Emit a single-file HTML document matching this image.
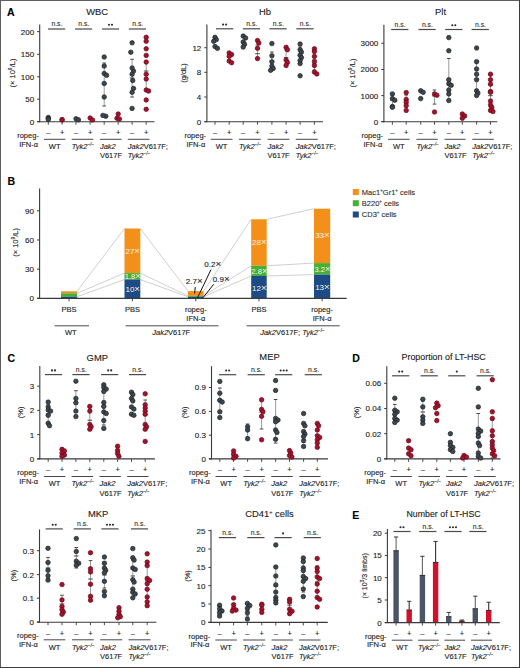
<!DOCTYPE html><html><head><meta charset="utf-8"><style>html,body{margin:0;padding:0;background:#fff;}svg{display:block;}text{stroke:#222;stroke-width:0.12px;}text.w{stroke:none;}</style></head><body>
<svg width="520" height="668" viewBox="0 0 520 668" font-family='"Liberation Sans", sans-serif'>
<rect x="0.00" y="0.00" width="520.00" height="668.00" fill="#fff"/>
<line x1="0.00" y1="0.50" x2="520.00" y2="0.50" stroke="#5e5e5e" stroke-width="1" />
<line x1="0.50" y1="0.00" x2="0.50" y2="668.00" stroke="#5e5e5e" stroke-width="1" />
<line x1="519.50" y1="0.00" x2="519.50" y2="668.00" stroke="#3c3c3c" stroke-width="1" />
<line x1="0.00" y1="667.50" x2="520.00" y2="667.50" stroke="#3c3c3c" stroke-width="1" />
<text x="6.90" y="15.70" font-size="10.5" text-anchor="start" font-weight="bold" fill="#000" style="stroke:#000" >A</text>
<text x="7.40" y="185.40" font-size="10.5" text-anchor="start" font-weight="bold" fill="#000" style="stroke:#000" >B</text>
<text x="7.40" y="362.00" font-size="10.5" text-anchor="start" font-weight="bold" fill="#000" style="stroke:#000" >C</text>
<text x="352.30" y="362.00" font-size="10.5" text-anchor="start" font-weight="bold" fill="#000" style="stroke:#000" >D</text>
<text x="352.20" y="518.50" font-size="10.5" text-anchor="start" font-weight="bold" fill="#000" style="stroke:#000" >E</text>
<line x1="39.70" y1="24.40" x2="39.70" y2="122.20" stroke="#3a3a3a" stroke-width="1.1" />
<line x1="37.10" y1="121.70" x2="154.50" y2="121.70" stroke="#3a3a3a" stroke-width="1.1" />
<line x1="37.10" y1="121.60" x2="39.70" y2="121.60" stroke="#3a3a3a" stroke-width="1.0" />
<text x="34.10" y="124.50" font-size="8" text-anchor="end" font-weight="normal" fill="#222" style="stroke:#222" >0</text>
<line x1="37.10" y1="99.20" x2="39.70" y2="99.20" stroke="#3a3a3a" stroke-width="1.0" />
<text x="34.10" y="102.10" font-size="8" text-anchor="end" font-weight="normal" fill="#222" style="stroke:#222" >50</text>
<line x1="37.10" y1="76.80" x2="39.70" y2="76.80" stroke="#3a3a3a" stroke-width="1.0" />
<text x="34.10" y="79.70" font-size="8" text-anchor="end" font-weight="normal" fill="#222" style="stroke:#222" >100</text>
<line x1="37.10" y1="54.30" x2="39.70" y2="54.30" stroke="#3a3a3a" stroke-width="1.0" />
<text x="34.10" y="57.20" font-size="8" text-anchor="end" font-weight="normal" fill="#222" style="stroke:#222" >150</text>
<line x1="37.10" y1="31.60" x2="39.70" y2="31.60" stroke="#3a3a3a" stroke-width="1.0" />
<text x="34.10" y="34.50" font-size="8" text-anchor="end" font-weight="normal" fill="#222" style="stroke:#222" >200</text>
<line x1="48.30" y1="121.70" x2="48.30" y2="124.70" stroke="#3a3a3a" stroke-width="0.9" />
<line x1="62.10" y1="121.70" x2="62.10" y2="124.70" stroke="#3a3a3a" stroke-width="0.9" />
<line x1="76.00" y1="121.70" x2="76.00" y2="124.70" stroke="#3a3a3a" stroke-width="0.9" />
<line x1="90.10" y1="121.70" x2="90.10" y2="124.70" stroke="#3a3a3a" stroke-width="0.9" />
<line x1="104.20" y1="121.70" x2="104.20" y2="124.70" stroke="#3a3a3a" stroke-width="0.9" />
<line x1="118.20" y1="121.70" x2="118.20" y2="124.70" stroke="#3a3a3a" stroke-width="0.9" />
<line x1="132.10" y1="121.70" x2="132.10" y2="124.70" stroke="#3a3a3a" stroke-width="0.9" />
<line x1="146.20" y1="121.70" x2="146.20" y2="124.70" stroke="#3a3a3a" stroke-width="0.9" />
<text x="97.10" y="14.50" font-size="9.4" text-anchor="middle" font-weight="normal" fill="#222" style="stroke:#222" >WBC</text>
<text transform="translate(14.60,73.00) rotate(-90)" font-size="7.5" text-anchor="middle" fill="#222">(× 10<tspan font-size="5" dy="-3">9</tspan><tspan dy="3">/L)</tspan></text>
<line x1="48.00" y1="29.00" x2="65.20" y2="29.00" stroke="#4a4a4a" stroke-width="1.2" />
<text x="56.90" y="26.10" font-size="6.8" text-anchor="middle" font-weight="normal" fill="#333" style="stroke:#333" >n.s.</text>
<line x1="74.95" y1="29.00" x2="92.15" y2="29.00" stroke="#4a4a4a" stroke-width="1.2" />
<text x="83.85" y="26.10" font-size="6.8" text-anchor="middle" font-weight="normal" fill="#333" style="stroke:#333" >n.s.</text>
<line x1="101.90" y1="29.00" x2="119.10" y2="29.00" stroke="#4a4a4a" stroke-width="1.2" />
<circle cx="109.00" cy="24.80" r="1.05" fill="#2a2a2a"/>
<circle cx="112.00" cy="24.80" r="1.05" fill="#2a2a2a"/>
<line x1="128.85" y1="29.00" x2="146.05" y2="29.00" stroke="#4a4a4a" stroke-width="1.2" />
<text x="137.75" y="26.10" font-size="6.8" text-anchor="middle" font-weight="normal" fill="#333" style="stroke:#333" >n.s.</text>
<text x="48.30" y="135.10" font-size="7.5" text-anchor="middle" font-weight="normal" fill="#222" style="stroke:#222" >–</text>
<text x="62.10" y="135.10" font-size="7.5" text-anchor="middle" font-weight="normal" fill="#222" style="stroke:#222" >+</text>
<text x="76.00" y="135.10" font-size="7.5" text-anchor="middle" font-weight="normal" fill="#222" style="stroke:#222" >–</text>
<text x="90.10" y="135.10" font-size="7.5" text-anchor="middle" font-weight="normal" fill="#222" style="stroke:#222" >+</text>
<text x="104.20" y="135.10" font-size="7.5" text-anchor="middle" font-weight="normal" fill="#222" style="stroke:#222" >–</text>
<text x="118.20" y="135.10" font-size="7.5" text-anchor="middle" font-weight="normal" fill="#222" style="stroke:#222" >+</text>
<text x="132.10" y="135.10" font-size="7.5" text-anchor="middle" font-weight="normal" fill="#222" style="stroke:#222" >–</text>
<text x="146.20" y="135.10" font-size="7.5" text-anchor="middle" font-weight="normal" fill="#222" style="stroke:#222" >+</text>
<text x="38.90" y="137.90" font-size="7.5" text-anchor="end" font-weight="normal" fill="#222" style="stroke:#222" >ropeg-</text>
<text x="38.10" y="146.50" font-size="7.5" text-anchor="end" font-weight="normal" fill="#222" style="stroke:#222" >IFN-α</text>
<line x1="44.00" y1="139.30" x2="65.40" y2="139.30" stroke="#333" stroke-width="0.9" />
<line x1="71.70" y1="139.30" x2="93.40" y2="139.30" stroke="#333" stroke-width="0.9" />
<line x1="99.90" y1="139.30" x2="121.50" y2="139.30" stroke="#333" stroke-width="0.9" />
<line x1="127.80" y1="139.30" x2="149.50" y2="139.30" stroke="#333" stroke-width="0.9" />
<text x="54.70" y="149.10" font-size="7.5" text-anchor="middle" font-weight="normal" fill="#222" style="stroke:#222" >WT</text>
<text x="71.70" y="149.10" font-size="7.5" fill="#222" font-style="italic">Tyk2<tspan font-size="4.6" dy="-3">−/−</tspan></text>
<text x="99.90" y="149.10" font-size="7.5" fill="#222" font-style="italic">Jak2</text>
<text x="99.90" y="158.30" font-size="7.5" fill="#222">V617F</text>
<text x="127.80" y="149.10" font-size="7.5" fill="#222"><tspan font-style="italic">Jak2</tspan>V617F;</text>
<text x="127.80" y="158.30" font-size="7.5" fill="#222" font-style="italic">Tyk2<tspan font-size="4.6" dy="-3">−/−</tspan></text>
<line x1="104.20" y1="63.00" x2="104.20" y2="106.00" stroke="#8f8f8f" stroke-width="0.9" />
<line x1="102.40" y1="63.00" x2="106.00" y2="63.00" stroke="#333" stroke-width="0.9" />
<line x1="102.40" y1="106.00" x2="106.00" y2="106.00" stroke="#333" stroke-width="0.9" />
<line x1="101.90" y1="84.00" x2="106.50" y2="84.00" stroke="#333" stroke-width="0.9" />
<line x1="132.10" y1="59.30" x2="132.10" y2="97.00" stroke="#8f8f8f" stroke-width="0.9" />
<line x1="130.30" y1="59.30" x2="133.90" y2="59.30" stroke="#333" stroke-width="0.9" />
<line x1="130.30" y1="97.00" x2="133.90" y2="97.00" stroke="#333" stroke-width="0.9" />
<line x1="129.80" y1="78.00" x2="134.40" y2="78.00" stroke="#333" stroke-width="0.9" />
<line x1="146.20" y1="62.50" x2="146.20" y2="90.80" stroke="#8f8f8f" stroke-width="0.9" />
<line x1="144.40" y1="62.50" x2="148.00" y2="62.50" stroke="#333" stroke-width="0.9" />
<line x1="144.40" y1="90.80" x2="148.00" y2="90.80" stroke="#333" stroke-width="0.9" />
<line x1="143.90" y1="71.00" x2="148.50" y2="71.00" stroke="#333" stroke-width="0.9" />
<circle cx="48.30" cy="117.50" r="2.25" fill="#3e474e" stroke="#1f2427" stroke-width="0.7"/>
<circle cx="48.30" cy="118.50" r="2.25" fill="#3e474e" stroke="#1f2427" stroke-width="0.7"/>
<circle cx="48.30" cy="119.50" r="2.25" fill="#3e474e" stroke="#1f2427" stroke-width="0.7"/>
<circle cx="62.10" cy="119.50" r="2.25" fill="#a3132c" stroke="#6a0819" stroke-width="0.7"/>
<circle cx="62.10" cy="120.00" r="2.25" fill="#a3132c" stroke="#6a0819" stroke-width="0.7"/>
<circle cx="76.00" cy="118.80" r="2.25" fill="#3e474e" stroke="#1f2427" stroke-width="0.7"/>
<circle cx="78.40" cy="119.80" r="2.25" fill="#3e474e" stroke="#1f2427" stroke-width="0.7"/>
<circle cx="90.10" cy="118.00" r="2.25" fill="#a3132c" stroke="#6a0819" stroke-width="0.7"/>
<circle cx="92.50" cy="120.00" r="2.25" fill="#a3132c" stroke="#6a0819" stroke-width="0.7"/>
<circle cx="105.80" cy="116.20" r="2.25" fill="#3e474e" stroke="#1f2427" stroke-width="0.7"/>
<circle cx="104.20" cy="57.00" r="2.25" fill="#3e474e" stroke="#1f2427" stroke-width="0.7"/>
<circle cx="104.20" cy="66.00" r="2.25" fill="#3e474e" stroke="#1f2427" stroke-width="0.7"/>
<circle cx="104.20" cy="73.50" r="2.25" fill="#3e474e" stroke="#1f2427" stroke-width="0.7"/>
<circle cx="106.60" cy="75.30" r="2.25" fill="#3e474e" stroke="#1f2427" stroke-width="0.7"/>
<circle cx="104.20" cy="83.40" r="2.25" fill="#3e474e" stroke="#1f2427" stroke-width="0.7"/>
<circle cx="104.20" cy="97.00" r="2.25" fill="#3e474e" stroke="#1f2427" stroke-width="0.7"/>
<circle cx="102.90" cy="115.40" r="2.25" fill="#3e474e" stroke="#1f2427" stroke-width="0.7"/>
<circle cx="117.00" cy="118.30" r="2.25" fill="#a3132c" stroke="#6a0819" stroke-width="0.7"/>
<circle cx="119.40" cy="119.00" r="2.25" fill="#a3132c" stroke="#6a0819" stroke-width="0.7"/>
<circle cx="118.20" cy="114.00" r="2.25" fill="#a3132c" stroke="#6a0819" stroke-width="0.7"/>
<circle cx="130.80" cy="52.20" r="2.25" fill="#3e474e" stroke="#1f2427" stroke-width="0.7"/>
<circle cx="133.50" cy="71.10" r="2.25" fill="#3e474e" stroke="#1f2427" stroke-width="0.7"/>
<circle cx="132.70" cy="80.50" r="2.25" fill="#3e474e" stroke="#1f2427" stroke-width="0.7"/>
<circle cx="133.50" cy="88.40" r="2.25" fill="#3e474e" stroke="#1f2427" stroke-width="0.7"/>
<circle cx="132.10" cy="42.80" r="2.25" fill="#3e474e" stroke="#1f2427" stroke-width="0.7"/>
<circle cx="132.10" cy="68.00" r="2.25" fill="#3e474e" stroke="#1f2427" stroke-width="0.7"/>
<circle cx="132.10" cy="74.20" r="2.25" fill="#3e474e" stroke="#1f2427" stroke-width="0.7"/>
<circle cx="132.10" cy="92.30" r="2.25" fill="#3e474e" stroke="#1f2427" stroke-width="0.7"/>
<circle cx="132.10" cy="108.40" r="2.25" fill="#3e474e" stroke="#1f2427" stroke-width="0.7"/>
<circle cx="146.20" cy="37.30" r="2.25" fill="#a3132c" stroke="#6a0819" stroke-width="0.7"/>
<circle cx="146.20" cy="41.20" r="2.25" fill="#a3132c" stroke="#6a0819" stroke-width="0.7"/>
<circle cx="146.20" cy="48.80" r="2.25" fill="#a3132c" stroke="#6a0819" stroke-width="0.7"/>
<circle cx="146.20" cy="55.40" r="2.25" fill="#a3132c" stroke="#6a0819" stroke-width="0.7"/>
<circle cx="146.20" cy="62.10" r="2.25" fill="#a3132c" stroke="#6a0819" stroke-width="0.7"/>
<circle cx="146.20" cy="74.20" r="2.25" fill="#a3132c" stroke="#6a0819" stroke-width="0.7"/>
<circle cx="146.20" cy="79.00" r="2.25" fill="#a3132c" stroke="#6a0819" stroke-width="0.7"/>
<circle cx="146.20" cy="90.00" r="2.25" fill="#a3132c" stroke="#6a0819" stroke-width="0.7"/>
<circle cx="148.60" cy="91.00" r="2.25" fill="#a3132c" stroke="#6a0819" stroke-width="0.7"/>
<circle cx="146.20" cy="99.90" r="2.25" fill="#a3132c" stroke="#6a0819" stroke-width="0.7"/>
<circle cx="146.20" cy="109.30" r="2.25" fill="#a3132c" stroke="#6a0819" stroke-width="0.7"/>
<line x1="206.90" y1="24.60" x2="206.90" y2="122.20" stroke="#3a3a3a" stroke-width="1.1" />
<line x1="204.30" y1="121.70" x2="323.00" y2="121.70" stroke="#3a3a3a" stroke-width="1.1" />
<line x1="204.30" y1="121.60" x2="206.90" y2="121.60" stroke="#3a3a3a" stroke-width="1.0" />
<text x="201.30" y="124.50" font-size="8" text-anchor="end" font-weight="normal" fill="#222" style="stroke:#222" >0</text>
<line x1="204.30" y1="97.00" x2="206.90" y2="97.00" stroke="#3a3a3a" stroke-width="1.0" />
<text x="201.30" y="99.90" font-size="8" text-anchor="end" font-weight="normal" fill="#222" style="stroke:#222" >4</text>
<line x1="204.30" y1="72.30" x2="206.90" y2="72.30" stroke="#3a3a3a" stroke-width="1.0" />
<text x="201.30" y="75.20" font-size="8" text-anchor="end" font-weight="normal" fill="#222" style="stroke:#222" >8</text>
<line x1="204.30" y1="47.70" x2="206.90" y2="47.70" stroke="#3a3a3a" stroke-width="1.0" />
<text x="201.30" y="50.60" font-size="8" text-anchor="end" font-weight="normal" fill="#222" style="stroke:#222" >12</text>
<line x1="215.00" y1="121.70" x2="215.00" y2="124.70" stroke="#3a3a3a" stroke-width="0.9" />
<line x1="229.20" y1="121.70" x2="229.20" y2="124.70" stroke="#3a3a3a" stroke-width="0.9" />
<line x1="243.20" y1="121.70" x2="243.20" y2="124.70" stroke="#3a3a3a" stroke-width="0.9" />
<line x1="257.50" y1="121.70" x2="257.50" y2="124.70" stroke="#3a3a3a" stroke-width="0.9" />
<line x1="271.90" y1="121.70" x2="271.90" y2="124.70" stroke="#3a3a3a" stroke-width="0.9" />
<line x1="286.10" y1="121.70" x2="286.10" y2="124.70" stroke="#3a3a3a" stroke-width="0.9" />
<line x1="300.10" y1="121.70" x2="300.10" y2="124.70" stroke="#3a3a3a" stroke-width="0.9" />
<line x1="314.40" y1="121.70" x2="314.40" y2="124.70" stroke="#3a3a3a" stroke-width="0.9" />
<text x="264.95" y="14.50" font-size="9.4" text-anchor="middle" font-weight="normal" fill="#222" style="stroke:#222" >Hb</text>
<text transform="translate(186.20,73.00) rotate(-90)" font-size="7.5" text-anchor="middle" fill="#222">(g/dL)</text>
<line x1="216.00" y1="28.80" x2="233.20" y2="28.80" stroke="#4a4a4a" stroke-width="1.2" />
<circle cx="223.10" cy="24.60" r="1.05" fill="#2a2a2a"/>
<circle cx="226.10" cy="24.60" r="1.05" fill="#2a2a2a"/>
<line x1="242.90" y1="28.80" x2="260.10" y2="28.80" stroke="#4a4a4a" stroke-width="1.2" />
<text x="251.80" y="25.90" font-size="6.8" text-anchor="middle" font-weight="normal" fill="#333" style="stroke:#333" >n.s.</text>
<line x1="269.40" y1="28.80" x2="286.60" y2="28.80" stroke="#4a4a4a" stroke-width="1.2" />
<text x="278.30" y="25.90" font-size="6.8" text-anchor="middle" font-weight="normal" fill="#333" style="stroke:#333" >n.s.</text>
<line x1="296.40" y1="28.80" x2="313.60" y2="28.80" stroke="#4a4a4a" stroke-width="1.2" />
<text x="305.30" y="25.90" font-size="6.8" text-anchor="middle" font-weight="normal" fill="#333" style="stroke:#333" >n.s.</text>
<text x="215.00" y="135.10" font-size="7.5" text-anchor="middle" font-weight="normal" fill="#222" style="stroke:#222" >–</text>
<text x="229.20" y="135.10" font-size="7.5" text-anchor="middle" font-weight="normal" fill="#222" style="stroke:#222" >+</text>
<text x="243.20" y="135.10" font-size="7.5" text-anchor="middle" font-weight="normal" fill="#222" style="stroke:#222" >–</text>
<text x="257.50" y="135.10" font-size="7.5" text-anchor="middle" font-weight="normal" fill="#222" style="stroke:#222" >+</text>
<text x="271.90" y="135.10" font-size="7.5" text-anchor="middle" font-weight="normal" fill="#222" style="stroke:#222" >–</text>
<text x="286.10" y="135.10" font-size="7.5" text-anchor="middle" font-weight="normal" fill="#222" style="stroke:#222" >+</text>
<text x="300.10" y="135.10" font-size="7.5" text-anchor="middle" font-weight="normal" fill="#222" style="stroke:#222" >–</text>
<text x="314.40" y="135.10" font-size="7.5" text-anchor="middle" font-weight="normal" fill="#222" style="stroke:#222" >+</text>
<text x="206.10" y="137.90" font-size="7.5" text-anchor="end" font-weight="normal" fill="#222" style="stroke:#222" >ropeg-</text>
<text x="205.30" y="146.50" font-size="7.5" text-anchor="end" font-weight="normal" fill="#222" style="stroke:#222" >IFN-α</text>
<line x1="210.70" y1="139.30" x2="232.50" y2="139.30" stroke="#333" stroke-width="0.9" />
<line x1="238.90" y1="139.30" x2="260.80" y2="139.30" stroke="#333" stroke-width="0.9" />
<line x1="267.60" y1="139.30" x2="289.40" y2="139.30" stroke="#333" stroke-width="0.9" />
<line x1="295.80" y1="139.30" x2="317.70" y2="139.30" stroke="#333" stroke-width="0.9" />
<text x="221.60" y="149.10" font-size="7.5" text-anchor="middle" font-weight="normal" fill="#222" style="stroke:#222" >WT</text>
<text x="238.90" y="149.10" font-size="7.5" fill="#222" font-style="italic">Tyk2<tspan font-size="4.6" dy="-3">−/−</tspan></text>
<text x="267.60" y="149.10" font-size="7.5" fill="#222" font-style="italic">Jak2</text>
<text x="267.60" y="158.30" font-size="7.5" fill="#222">V617F</text>
<text x="295.80" y="149.10" font-size="7.5" fill="#222"><tspan font-style="italic">Jak2</tspan>V617F;</text>
<text x="295.80" y="158.30" font-size="7.5" fill="#222" font-style="italic">Tyk2<tspan font-size="4.6" dy="-3">−/−</tspan></text>
<line x1="286.10" y1="50.00" x2="286.10" y2="64.00" stroke="#8f8f8f" stroke-width="0.9" />
<line x1="284.30" y1="50.00" x2="287.90" y2="50.00" stroke="#333" stroke-width="0.9" />
<line x1="284.30" y1="64.00" x2="287.90" y2="64.00" stroke="#333" stroke-width="0.9" />
<line x1="283.80" y1="57.60" x2="288.40" y2="57.60" stroke="#333" stroke-width="0.9" />
<line x1="257.50" y1="45.00" x2="257.50" y2="58.00" stroke="#8f8f8f" stroke-width="0.9" />
<line x1="255.70" y1="45.00" x2="259.30" y2="45.00" stroke="#333" stroke-width="0.9" />
<line x1="255.70" y1="58.00" x2="259.30" y2="58.00" stroke="#333" stroke-width="0.9" />
<line x1="255.20" y1="53.70" x2="259.80" y2="53.70" stroke="#333" stroke-width="0.9" />
<line x1="300.10" y1="47.00" x2="300.10" y2="64.00" stroke="#8f8f8f" stroke-width="0.9" />
<line x1="298.30" y1="47.00" x2="301.90" y2="47.00" stroke="#333" stroke-width="0.9" />
<line x1="298.30" y1="64.00" x2="301.90" y2="64.00" stroke="#333" stroke-width="0.9" />
<line x1="297.80" y1="55.50" x2="302.40" y2="55.50" stroke="#333" stroke-width="0.9" />
<line x1="314.40" y1="51.00" x2="314.40" y2="70.00" stroke="#8f8f8f" stroke-width="0.9" />
<line x1="312.60" y1="51.00" x2="316.20" y2="51.00" stroke="#333" stroke-width="0.9" />
<line x1="312.60" y1="70.00" x2="316.20" y2="70.00" stroke="#333" stroke-width="0.9" />
<line x1="312.10" y1="60.00" x2="316.70" y2="60.00" stroke="#333" stroke-width="0.9" />
<line x1="271.90" y1="52.00" x2="271.90" y2="70.00" stroke="#8f8f8f" stroke-width="0.9" />
<line x1="270.10" y1="52.00" x2="273.70" y2="52.00" stroke="#333" stroke-width="0.9" />
<line x1="270.10" y1="70.00" x2="273.70" y2="70.00" stroke="#333" stroke-width="0.9" />
<line x1="269.60" y1="61.00" x2="274.20" y2="61.00" stroke="#333" stroke-width="0.9" />
<circle cx="215.00" cy="37.30" r="2.25" fill="#3e474e" stroke="#1f2427" stroke-width="0.7"/>
<circle cx="216.30" cy="39.60" r="2.25" fill="#3e474e" stroke="#1f2427" stroke-width="0.7"/>
<circle cx="213.70" cy="41.30" r="2.25" fill="#3e474e" stroke="#1f2427" stroke-width="0.7"/>
<circle cx="215.00" cy="46.50" r="2.25" fill="#3e474e" stroke="#1f2427" stroke-width="0.7"/>
<circle cx="217.40" cy="48.30" r="2.25" fill="#3e474e" stroke="#1f2427" stroke-width="0.7"/>
<circle cx="229.20" cy="52.90" r="2.25" fill="#a3132c" stroke="#6a0819" stroke-width="0.7"/>
<circle cx="231.60" cy="54.60" r="2.25" fill="#a3132c" stroke="#6a0819" stroke-width="0.7"/>
<circle cx="229.20" cy="56.30" r="2.25" fill="#a3132c" stroke="#6a0819" stroke-width="0.7"/>
<circle cx="229.20" cy="61.00" r="2.25" fill="#a3132c" stroke="#6a0819" stroke-width="0.7"/>
<circle cx="231.60" cy="62.70" r="2.25" fill="#a3132c" stroke="#6a0819" stroke-width="0.7"/>
<circle cx="243.20" cy="36.10" r="2.25" fill="#3e474e" stroke="#1f2427" stroke-width="0.7"/>
<circle cx="245.60" cy="37.90" r="2.25" fill="#3e474e" stroke="#1f2427" stroke-width="0.7"/>
<circle cx="243.20" cy="41.90" r="2.25" fill="#3e474e" stroke="#1f2427" stroke-width="0.7"/>
<circle cx="244.50" cy="44.20" r="2.25" fill="#3e474e" stroke="#1f2427" stroke-width="0.7"/>
<circle cx="243.20" cy="47.10" r="2.25" fill="#3e474e" stroke="#1f2427" stroke-width="0.7"/>
<circle cx="257.50" cy="40.50" r="2.25" fill="#a3132c" stroke="#6a0819" stroke-width="0.7"/>
<circle cx="258.80" cy="43.00" r="2.25" fill="#a3132c" stroke="#6a0819" stroke-width="0.7"/>
<circle cx="257.50" cy="48.30" r="2.25" fill="#a3132c" stroke="#6a0819" stroke-width="0.7"/>
<circle cx="257.50" cy="58.60" r="2.25" fill="#a3132c" stroke="#6a0819" stroke-width="0.7"/>
<circle cx="271.90" cy="43.60" r="2.25" fill="#3e474e" stroke="#1f2427" stroke-width="0.7"/>
<circle cx="271.90" cy="55.80" r="2.25" fill="#3e474e" stroke="#1f2427" stroke-width="0.7"/>
<circle cx="271.90" cy="61.80" r="2.25" fill="#3e474e" stroke="#1f2427" stroke-width="0.7"/>
<circle cx="271.90" cy="66.10" r="2.25" fill="#3e474e" stroke="#1f2427" stroke-width="0.7"/>
<circle cx="273.20" cy="68.50" r="2.25" fill="#3e474e" stroke="#1f2427" stroke-width="0.7"/>
<circle cx="270.60" cy="70.30" r="2.25" fill="#3e474e" stroke="#1f2427" stroke-width="0.7"/>
<circle cx="286.10" cy="47.30" r="2.25" fill="#a3132c" stroke="#6a0819" stroke-width="0.7"/>
<circle cx="287.40" cy="49.70" r="2.25" fill="#a3132c" stroke="#6a0819" stroke-width="0.7"/>
<circle cx="286.10" cy="60.00" r="2.25" fill="#a3132c" stroke="#6a0819" stroke-width="0.7"/>
<circle cx="287.40" cy="62.40" r="2.25" fill="#a3132c" stroke="#6a0819" stroke-width="0.7"/>
<circle cx="286.10" cy="65.50" r="2.25" fill="#a3132c" stroke="#6a0819" stroke-width="0.7"/>
<circle cx="300.10" cy="44.00" r="2.25" fill="#3e474e" stroke="#1f2427" stroke-width="0.7"/>
<circle cx="300.10" cy="49.70" r="2.25" fill="#3e474e" stroke="#1f2427" stroke-width="0.7"/>
<circle cx="301.40" cy="52.10" r="2.25" fill="#3e474e" stroke="#1f2427" stroke-width="0.7"/>
<circle cx="300.10" cy="55.20" r="2.25" fill="#3e474e" stroke="#1f2427" stroke-width="0.7"/>
<circle cx="301.40" cy="57.60" r="2.25" fill="#3e474e" stroke="#1f2427" stroke-width="0.7"/>
<circle cx="300.10" cy="60.60" r="2.25" fill="#3e474e" stroke="#1f2427" stroke-width="0.7"/>
<circle cx="300.10" cy="63.60" r="2.25" fill="#3e474e" stroke="#1f2427" stroke-width="0.7"/>
<circle cx="300.10" cy="75.80" r="2.25" fill="#3e474e" stroke="#1f2427" stroke-width="0.7"/>
<circle cx="314.40" cy="48.80" r="2.25" fill="#a3132c" stroke="#6a0819" stroke-width="0.7"/>
<circle cx="314.40" cy="51.50" r="2.25" fill="#a3132c" stroke="#6a0819" stroke-width="0.7"/>
<circle cx="314.40" cy="56.40" r="2.25" fill="#a3132c" stroke="#6a0819" stroke-width="0.7"/>
<circle cx="314.40" cy="61.80" r="2.25" fill="#a3132c" stroke="#6a0819" stroke-width="0.7"/>
<circle cx="314.40" cy="65.50" r="2.25" fill="#a3132c" stroke="#6a0819" stroke-width="0.7"/>
<circle cx="314.40" cy="72.10" r="2.25" fill="#a3132c" stroke="#6a0819" stroke-width="0.7"/>
<circle cx="316.80" cy="73.90" r="2.25" fill="#a3132c" stroke="#6a0819" stroke-width="0.7"/>
<line x1="383.90" y1="24.70" x2="383.90" y2="122.20" stroke="#3a3a3a" stroke-width="1.1" />
<line x1="381.30" y1="121.70" x2="497.30" y2="121.70" stroke="#3a3a3a" stroke-width="1.1" />
<line x1="381.30" y1="121.60" x2="383.90" y2="121.60" stroke="#3a3a3a" stroke-width="1.0" />
<text x="378.30" y="124.50" font-size="8" text-anchor="end" font-weight="normal" fill="#222" style="stroke:#222" >0</text>
<line x1="381.30" y1="95.60" x2="383.90" y2="95.60" stroke="#3a3a3a" stroke-width="1.0" />
<text x="378.30" y="98.50" font-size="8" text-anchor="end" font-weight="normal" fill="#222" style="stroke:#222" >1000</text>
<line x1="381.30" y1="69.50" x2="383.90" y2="69.50" stroke="#3a3a3a" stroke-width="1.0" />
<text x="378.30" y="72.40" font-size="8" text-anchor="end" font-weight="normal" fill="#222" style="stroke:#222" >2000</text>
<line x1="381.30" y1="43.30" x2="383.90" y2="43.30" stroke="#3a3a3a" stroke-width="1.0" />
<text x="378.30" y="46.20" font-size="8" text-anchor="end" font-weight="normal" fill="#222" style="stroke:#222" >3000</text>
<line x1="392.40" y1="121.70" x2="392.40" y2="124.70" stroke="#3a3a3a" stroke-width="0.9" />
<line x1="406.20" y1="121.70" x2="406.20" y2="124.70" stroke="#3a3a3a" stroke-width="0.9" />
<line x1="420.70" y1="121.70" x2="420.70" y2="124.70" stroke="#3a3a3a" stroke-width="0.9" />
<line x1="434.50" y1="121.70" x2="434.50" y2="124.70" stroke="#3a3a3a" stroke-width="0.9" />
<line x1="448.80" y1="121.70" x2="448.80" y2="124.70" stroke="#3a3a3a" stroke-width="0.9" />
<line x1="462.30" y1="121.70" x2="462.30" y2="124.70" stroke="#3a3a3a" stroke-width="0.9" />
<line x1="476.60" y1="121.70" x2="476.60" y2="124.70" stroke="#3a3a3a" stroke-width="0.9" />
<line x1="490.50" y1="121.70" x2="490.50" y2="124.70" stroke="#3a3a3a" stroke-width="0.9" />
<text x="440.60" y="14.50" font-size="9.4" text-anchor="middle" font-weight="normal" fill="#222" style="stroke:#222" >Plt</text>
<text transform="translate(354.60,73.00) rotate(-90)" font-size="7.5" text-anchor="middle" fill="#222">(× 10<tspan font-size="5" dy="-3">9</tspan><tspan dy="3">/L)</tspan></text>
<line x1="391.20" y1="29.50" x2="408.40" y2="29.50" stroke="#4a4a4a" stroke-width="1.2" />
<text x="400.10" y="26.60" font-size="6.8" text-anchor="middle" font-weight="normal" fill="#333" style="stroke:#333" >n.s.</text>
<line x1="418.50" y1="29.50" x2="435.70" y2="29.50" stroke="#4a4a4a" stroke-width="1.2" />
<text x="427.40" y="26.60" font-size="6.8" text-anchor="middle" font-weight="normal" fill="#333" style="stroke:#333" >n.s.</text>
<line x1="445.20" y1="29.50" x2="462.40" y2="29.50" stroke="#4a4a4a" stroke-width="1.2" />
<circle cx="452.30" cy="25.30" r="1.05" fill="#2a2a2a"/>
<circle cx="455.30" cy="25.30" r="1.05" fill="#2a2a2a"/>
<line x1="471.60" y1="29.50" x2="488.80" y2="29.50" stroke="#4a4a4a" stroke-width="1.2" />
<text x="480.50" y="26.60" font-size="6.8" text-anchor="middle" font-weight="normal" fill="#333" style="stroke:#333" >n.s.</text>
<text x="392.40" y="135.10" font-size="7.5" text-anchor="middle" font-weight="normal" fill="#222" style="stroke:#222" >–</text>
<text x="406.20" y="135.10" font-size="7.5" text-anchor="middle" font-weight="normal" fill="#222" style="stroke:#222" >+</text>
<text x="420.70" y="135.10" font-size="7.5" text-anchor="middle" font-weight="normal" fill="#222" style="stroke:#222" >–</text>
<text x="434.50" y="135.10" font-size="7.5" text-anchor="middle" font-weight="normal" fill="#222" style="stroke:#222" >+</text>
<text x="448.80" y="135.10" font-size="7.5" text-anchor="middle" font-weight="normal" fill="#222" style="stroke:#222" >–</text>
<text x="462.30" y="135.10" font-size="7.5" text-anchor="middle" font-weight="normal" fill="#222" style="stroke:#222" >+</text>
<text x="476.60" y="135.10" font-size="7.5" text-anchor="middle" font-weight="normal" fill="#222" style="stroke:#222" >–</text>
<text x="490.50" y="135.10" font-size="7.5" text-anchor="middle" font-weight="normal" fill="#222" style="stroke:#222" >+</text>
<text x="383.10" y="137.90" font-size="7.5" text-anchor="end" font-weight="normal" fill="#222" style="stroke:#222" >ropeg-</text>
<text x="382.30" y="146.50" font-size="7.5" text-anchor="end" font-weight="normal" fill="#222" style="stroke:#222" >IFN-α</text>
<line x1="388.10" y1="139.30" x2="409.50" y2="139.30" stroke="#333" stroke-width="0.9" />
<line x1="416.40" y1="139.30" x2="437.80" y2="139.30" stroke="#333" stroke-width="0.9" />
<line x1="444.50" y1="139.30" x2="465.60" y2="139.30" stroke="#333" stroke-width="0.9" />
<line x1="472.30" y1="139.30" x2="493.80" y2="139.30" stroke="#333" stroke-width="0.9" />
<text x="398.80" y="149.10" font-size="7.5" text-anchor="middle" font-weight="normal" fill="#222" style="stroke:#222" >WT</text>
<text x="416.40" y="149.10" font-size="7.5" fill="#222" font-style="italic">Tyk2<tspan font-size="4.6" dy="-3">−/−</tspan></text>
<text x="444.50" y="149.10" font-size="7.5" fill="#222" font-style="italic">Jak2</text>
<text x="444.50" y="158.30" font-size="7.5" fill="#222">V617F</text>
<text x="472.30" y="149.10" font-size="7.5" fill="#222"><tspan font-style="italic">Jak2</tspan>V617F;</text>
<text x="472.30" y="158.30" font-size="7.5" fill="#222" font-style="italic">Tyk2<tspan font-size="4.6" dy="-3">−/−</tspan></text>
<line x1="448.80" y1="58.50" x2="448.80" y2="100.00" stroke="#8f8f8f" stroke-width="0.9" />
<line x1="447.00" y1="58.50" x2="450.60" y2="58.50" stroke="#333" stroke-width="0.9" />
<line x1="447.00" y1="100.00" x2="450.60" y2="100.00" stroke="#333" stroke-width="0.9" />
<line x1="446.50" y1="80.00" x2="451.10" y2="80.00" stroke="#333" stroke-width="0.9" />
<line x1="434.50" y1="90.00" x2="434.50" y2="104.10" stroke="#8f8f8f" stroke-width="0.9" />
<line x1="432.70" y1="90.00" x2="436.30" y2="90.00" stroke="#333" stroke-width="0.9" />
<line x1="432.70" y1="104.10" x2="436.30" y2="104.10" stroke="#333" stroke-width="0.9" />
<line x1="432.20" y1="96.00" x2="436.80" y2="96.00" stroke="#333" stroke-width="0.9" />
<line x1="476.60" y1="61.60" x2="476.60" y2="90.30" stroke="#8f8f8f" stroke-width="0.9" />
<line x1="474.80" y1="61.60" x2="478.40" y2="61.60" stroke="#333" stroke-width="0.9" />
<line x1="474.80" y1="90.30" x2="478.40" y2="90.30" stroke="#333" stroke-width="0.9" />
<line x1="474.30" y1="79.00" x2="478.90" y2="79.00" stroke="#333" stroke-width="0.9" />
<line x1="490.50" y1="74.70" x2="490.50" y2="107.00" stroke="#8f8f8f" stroke-width="0.9" />
<line x1="488.70" y1="74.70" x2="492.30" y2="74.70" stroke="#333" stroke-width="0.9" />
<line x1="488.70" y1="107.00" x2="492.30" y2="107.00" stroke="#333" stroke-width="0.9" />
<line x1="488.20" y1="95.70" x2="492.80" y2="95.70" stroke="#333" stroke-width="0.9" />
<line x1="392.40" y1="94.00" x2="392.40" y2="106.00" stroke="#8f8f8f" stroke-width="0.9" />
<line x1="390.60" y1="94.00" x2="394.20" y2="94.00" stroke="#333" stroke-width="0.9" />
<line x1="390.60" y1="106.00" x2="394.20" y2="106.00" stroke="#333" stroke-width="0.9" />
<line x1="390.10" y1="100.00" x2="394.70" y2="100.00" stroke="#333" stroke-width="0.9" />
<line x1="406.20" y1="95.00" x2="406.20" y2="107.00" stroke="#8f8f8f" stroke-width="0.9" />
<line x1="404.40" y1="95.00" x2="408.00" y2="95.00" stroke="#333" stroke-width="0.9" />
<line x1="404.40" y1="107.00" x2="408.00" y2="107.00" stroke="#333" stroke-width="0.9" />
<line x1="403.90" y1="101.00" x2="408.50" y2="101.00" stroke="#333" stroke-width="0.9" />
<circle cx="392.40" cy="93.90" r="2.25" fill="#3e474e" stroke="#1f2427" stroke-width="0.7"/>
<circle cx="392.40" cy="98.60" r="2.25" fill="#3e474e" stroke="#1f2427" stroke-width="0.7"/>
<circle cx="394.80" cy="100.20" r="2.25" fill="#3e474e" stroke="#1f2427" stroke-width="0.7"/>
<circle cx="392.40" cy="106.50" r="2.25" fill="#3e474e" stroke="#1f2427" stroke-width="0.7"/>
<circle cx="392.40" cy="107.30" r="2.25" fill="#3e474e" stroke="#1f2427" stroke-width="0.7"/>
<circle cx="406.20" cy="92.60" r="2.25" fill="#a3132c" stroke="#6a0819" stroke-width="0.7"/>
<circle cx="406.20" cy="99.40" r="2.25" fill="#a3132c" stroke="#6a0819" stroke-width="0.7"/>
<circle cx="406.20" cy="102.50" r="2.25" fill="#a3132c" stroke="#6a0819" stroke-width="0.7"/>
<circle cx="406.20" cy="105.70" r="2.25" fill="#a3132c" stroke="#6a0819" stroke-width="0.7"/>
<circle cx="406.20" cy="110.40" r="2.25" fill="#a3132c" stroke="#6a0819" stroke-width="0.7"/>
<circle cx="420.70" cy="90.80" r="2.25" fill="#3e474e" stroke="#1f2427" stroke-width="0.7"/>
<circle cx="423.10" cy="92.30" r="2.25" fill="#3e474e" stroke="#1f2427" stroke-width="0.7"/>
<circle cx="420.70" cy="98.60" r="2.25" fill="#3e474e" stroke="#1f2427" stroke-width="0.7"/>
<circle cx="434.50" cy="93.90" r="2.25" fill="#a3132c" stroke="#6a0819" stroke-width="0.7"/>
<circle cx="436.90" cy="95.20" r="2.25" fill="#a3132c" stroke="#6a0819" stroke-width="0.7"/>
<circle cx="434.50" cy="112.00" r="2.25" fill="#a3132c" stroke="#6a0819" stroke-width="0.7"/>
<circle cx="448.80" cy="37.60" r="2.25" fill="#3e474e" stroke="#1f2427" stroke-width="0.7"/>
<circle cx="448.80" cy="50.70" r="2.25" fill="#3e474e" stroke="#1f2427" stroke-width="0.7"/>
<circle cx="448.80" cy="79.70" r="2.25" fill="#3e474e" stroke="#1f2427" stroke-width="0.7"/>
<circle cx="448.80" cy="83.70" r="2.25" fill="#3e474e" stroke="#1f2427" stroke-width="0.7"/>
<circle cx="451.20" cy="85.30" r="2.25" fill="#3e474e" stroke="#1f2427" stroke-width="0.7"/>
<circle cx="448.80" cy="90.00" r="2.25" fill="#3e474e" stroke="#1f2427" stroke-width="0.7"/>
<circle cx="448.80" cy="93.90" r="2.25" fill="#3e474e" stroke="#1f2427" stroke-width="0.7"/>
<circle cx="448.80" cy="100.50" r="2.25" fill="#3e474e" stroke="#1f2427" stroke-width="0.7"/>
<circle cx="462.30" cy="114.00" r="2.25" fill="#a3132c" stroke="#6a0819" stroke-width="0.7"/>
<circle cx="464.70" cy="115.90" r="2.25" fill="#a3132c" stroke="#6a0819" stroke-width="0.7"/>
<circle cx="462.30" cy="118.30" r="2.25" fill="#a3132c" stroke="#6a0819" stroke-width="0.7"/>
<circle cx="476.60" cy="48.00" r="2.25" fill="#3e474e" stroke="#1f2427" stroke-width="0.7"/>
<circle cx="476.60" cy="61.70" r="2.25" fill="#3e474e" stroke="#1f2427" stroke-width="0.7"/>
<circle cx="476.60" cy="69.00" r="2.25" fill="#3e474e" stroke="#1f2427" stroke-width="0.7"/>
<circle cx="476.60" cy="74.20" r="2.25" fill="#3e474e" stroke="#1f2427" stroke-width="0.7"/>
<circle cx="476.60" cy="79.70" r="2.25" fill="#3e474e" stroke="#1f2427" stroke-width="0.7"/>
<circle cx="476.60" cy="90.80" r="2.25" fill="#3e474e" stroke="#1f2427" stroke-width="0.7"/>
<circle cx="477.90" cy="93.10" r="2.25" fill="#3e474e" stroke="#1f2427" stroke-width="0.7"/>
<circle cx="476.60" cy="95.50" r="2.25" fill="#3e474e" stroke="#1f2427" stroke-width="0.7"/>
<circle cx="490.50" cy="74.20" r="2.25" fill="#a3132c" stroke="#6a0819" stroke-width="0.7"/>
<circle cx="490.50" cy="79.70" r="2.25" fill="#a3132c" stroke="#6a0819" stroke-width="0.7"/>
<circle cx="490.50" cy="84.20" r="2.25" fill="#a3132c" stroke="#6a0819" stroke-width="0.7"/>
<circle cx="490.50" cy="91.50" r="2.25" fill="#a3132c" stroke="#6a0819" stroke-width="0.7"/>
<circle cx="490.50" cy="92.30" r="2.25" fill="#a3132c" stroke="#6a0819" stroke-width="0.7"/>
<circle cx="490.50" cy="101.00" r="2.25" fill="#a3132c" stroke="#6a0819" stroke-width="0.7"/>
<circle cx="490.50" cy="104.90" r="2.25" fill="#a3132c" stroke="#6a0819" stroke-width="0.7"/>
<circle cx="491.80" cy="107.30" r="2.25" fill="#a3132c" stroke="#6a0819" stroke-width="0.7"/>
<circle cx="490.50" cy="110.40" r="2.25" fill="#a3132c" stroke="#6a0819" stroke-width="0.7"/>
<circle cx="492.90" cy="111.50" r="2.25" fill="#a3132c" stroke="#6a0819" stroke-width="0.7"/>
<line x1="39.80" y1="366.00" x2="39.80" y2="459.40" stroke="#3a3a3a" stroke-width="1.1" />
<line x1="37.20" y1="458.90" x2="154.90" y2="458.90" stroke="#3a3a3a" stroke-width="1.1" />
<line x1="37.20" y1="458.80" x2="39.80" y2="458.80" stroke="#3a3a3a" stroke-width="1.0" />
<text x="34.20" y="461.70" font-size="8" text-anchor="end" font-weight="normal" fill="#222" style="stroke:#222" >0</text>
<line x1="37.20" y1="434.60" x2="39.80" y2="434.60" stroke="#3a3a3a" stroke-width="1.0" />
<text x="34.20" y="437.50" font-size="8" text-anchor="end" font-weight="normal" fill="#222" style="stroke:#222" >1</text>
<line x1="37.20" y1="410.40" x2="39.80" y2="410.40" stroke="#3a3a3a" stroke-width="1.0" />
<text x="34.20" y="413.30" font-size="8" text-anchor="end" font-weight="normal" fill="#222" style="stroke:#222" >2</text>
<line x1="37.20" y1="386.20" x2="39.80" y2="386.20" stroke="#3a3a3a" stroke-width="1.0" />
<text x="34.20" y="389.10" font-size="8" text-anchor="end" font-weight="normal" fill="#222" style="stroke:#222" >3</text>
<line x1="48.20" y1="458.90" x2="48.20" y2="461.90" stroke="#3a3a3a" stroke-width="0.9" />
<line x1="62.00" y1="458.90" x2="62.00" y2="461.90" stroke="#3a3a3a" stroke-width="0.9" />
<line x1="75.90" y1="458.90" x2="75.90" y2="461.90" stroke="#3a3a3a" stroke-width="0.9" />
<line x1="89.80" y1="458.90" x2="89.80" y2="461.90" stroke="#3a3a3a" stroke-width="0.9" />
<line x1="103.80" y1="458.90" x2="103.80" y2="461.90" stroke="#3a3a3a" stroke-width="0.9" />
<line x1="117.60" y1="458.90" x2="117.60" y2="461.90" stroke="#3a3a3a" stroke-width="0.9" />
<line x1="131.50" y1="458.90" x2="131.50" y2="461.90" stroke="#3a3a3a" stroke-width="0.9" />
<line x1="145.20" y1="458.90" x2="145.20" y2="461.90" stroke="#3a3a3a" stroke-width="0.9" />
<text x="97.30" y="360.50" font-size="9.4" text-anchor="middle" font-weight="normal" fill="#222" style="stroke:#222" >GMP</text>
<text transform="translate(22.70,412.40) rotate(-90)" font-size="7.5" text-anchor="middle" fill="#222">(%)</text>
<line x1="44.90" y1="374.60" x2="62.10" y2="374.60" stroke="#4a4a4a" stroke-width="1.2" />
<circle cx="52.00" cy="370.40" r="1.05" fill="#2a2a2a"/>
<circle cx="55.00" cy="370.40" r="1.05" fill="#2a2a2a"/>
<line x1="72.40" y1="374.60" x2="89.60" y2="374.60" stroke="#4a4a4a" stroke-width="1.2" />
<text x="81.30" y="371.70" font-size="6.8" text-anchor="middle" font-weight="normal" fill="#333" style="stroke:#333" >n.s.</text>
<line x1="101.10" y1="374.60" x2="118.30" y2="374.60" stroke="#4a4a4a" stroke-width="1.2" />
<circle cx="108.20" cy="370.40" r="1.05" fill="#2a2a2a"/>
<circle cx="111.20" cy="370.40" r="1.05" fill="#2a2a2a"/>
<line x1="128.90" y1="374.60" x2="146.10" y2="374.60" stroke="#4a4a4a" stroke-width="1.2" />
<text x="137.80" y="371.70" font-size="6.8" text-anchor="middle" font-weight="normal" fill="#333" style="stroke:#333" >n.s.</text>
<text x="48.20" y="472.30" font-size="7.5" text-anchor="middle" font-weight="normal" fill="#222" style="stroke:#222" >–</text>
<text x="62.00" y="472.30" font-size="7.5" text-anchor="middle" font-weight="normal" fill="#222" style="stroke:#222" >+</text>
<text x="75.90" y="472.30" font-size="7.5" text-anchor="middle" font-weight="normal" fill="#222" style="stroke:#222" >–</text>
<text x="89.80" y="472.30" font-size="7.5" text-anchor="middle" font-weight="normal" fill="#222" style="stroke:#222" >+</text>
<text x="103.80" y="472.30" font-size="7.5" text-anchor="middle" font-weight="normal" fill="#222" style="stroke:#222" >–</text>
<text x="117.60" y="472.30" font-size="7.5" text-anchor="middle" font-weight="normal" fill="#222" style="stroke:#222" >+</text>
<text x="131.50" y="472.30" font-size="7.5" text-anchor="middle" font-weight="normal" fill="#222" style="stroke:#222" >–</text>
<text x="145.20" y="472.30" font-size="7.5" text-anchor="middle" font-weight="normal" fill="#222" style="stroke:#222" >+</text>
<text x="39.00" y="475.10" font-size="7.5" text-anchor="end" font-weight="normal" fill="#222" style="stroke:#222" >ropeg-</text>
<text x="38.20" y="483.70" font-size="7.5" text-anchor="end" font-weight="normal" fill="#222" style="stroke:#222" >IFN-α</text>
<line x1="43.90" y1="476.50" x2="65.30" y2="476.50" stroke="#333" stroke-width="0.9" />
<line x1="71.60" y1="476.50" x2="93.10" y2="476.50" stroke="#333" stroke-width="0.9" />
<line x1="99.50" y1="476.50" x2="120.90" y2="476.50" stroke="#333" stroke-width="0.9" />
<line x1="127.20" y1="476.50" x2="148.50" y2="476.50" stroke="#333" stroke-width="0.9" />
<text x="54.60" y="486.30" font-size="7.5" text-anchor="middle" font-weight="normal" fill="#222" style="stroke:#222" >WT</text>
<text x="71.60" y="486.30" font-size="7.5" fill="#222" font-style="italic">Tyk2<tspan font-size="4.6" dy="-3">−/−</tspan></text>
<text x="99.50" y="486.30" font-size="7.5" fill="#222" font-style="italic">Jak2</text>
<text x="99.50" y="495.50" font-size="7.5" fill="#222">V617F</text>
<text x="127.20" y="486.30" font-size="7.5" fill="#222"><tspan font-style="italic">Jak2</tspan>V617F;</text>
<text x="127.20" y="495.50" font-size="7.5" fill="#222" font-style="italic">Tyk2<tspan font-size="4.6" dy="-3">−/−</tspan></text>
<line x1="48.20" y1="405.00" x2="48.20" y2="423.00" stroke="#8f8f8f" stroke-width="0.9" />
<line x1="46.40" y1="405.00" x2="50.00" y2="405.00" stroke="#333" stroke-width="0.9" />
<line x1="46.40" y1="423.00" x2="50.00" y2="423.00" stroke="#333" stroke-width="0.9" />
<line x1="45.90" y1="414.00" x2="50.50" y2="414.00" stroke="#333" stroke-width="0.9" />
<line x1="75.90" y1="390.70" x2="75.90" y2="412.00" stroke="#8f8f8f" stroke-width="0.9" />
<line x1="74.10" y1="390.70" x2="77.70" y2="390.70" stroke="#333" stroke-width="0.9" />
<line x1="74.10" y1="412.00" x2="77.70" y2="412.00" stroke="#333" stroke-width="0.9" />
<line x1="73.60" y1="403.00" x2="78.20" y2="403.00" stroke="#333" stroke-width="0.9" />
<line x1="89.80" y1="406.00" x2="89.80" y2="430.00" stroke="#8f8f8f" stroke-width="0.9" />
<line x1="88.00" y1="406.00" x2="91.60" y2="406.00" stroke="#333" stroke-width="0.9" />
<line x1="88.00" y1="430.00" x2="91.60" y2="430.00" stroke="#333" stroke-width="0.9" />
<line x1="87.50" y1="420.20" x2="92.10" y2="420.20" stroke="#333" stroke-width="0.9" />
<line x1="103.80" y1="386.00" x2="103.80" y2="425.00" stroke="#8f8f8f" stroke-width="0.9" />
<line x1="102.00" y1="386.00" x2="105.60" y2="386.00" stroke="#333" stroke-width="0.9" />
<line x1="102.00" y1="425.00" x2="105.60" y2="425.00" stroke="#333" stroke-width="0.9" />
<line x1="101.50" y1="406.00" x2="106.10" y2="406.00" stroke="#333" stroke-width="0.9" />
<line x1="145.20" y1="400.00" x2="145.20" y2="430.00" stroke="#8f8f8f" stroke-width="0.9" />
<line x1="143.40" y1="400.00" x2="147.00" y2="400.00" stroke="#333" stroke-width="0.9" />
<line x1="143.40" y1="430.00" x2="147.00" y2="430.00" stroke="#333" stroke-width="0.9" />
<line x1="142.90" y1="415.00" x2="147.50" y2="415.00" stroke="#333" stroke-width="0.9" />
<circle cx="48.20" cy="402.10" r="2.25" fill="#3e474e" stroke="#1f2427" stroke-width="0.7"/>
<circle cx="48.20" cy="406.90" r="2.25" fill="#3e474e" stroke="#1f2427" stroke-width="0.7"/>
<circle cx="48.20" cy="410.00" r="2.25" fill="#3e474e" stroke="#1f2427" stroke-width="0.7"/>
<circle cx="50.60" cy="411.10" r="2.25" fill="#3e474e" stroke="#1f2427" stroke-width="0.7"/>
<circle cx="48.20" cy="415.30" r="2.25" fill="#3e474e" stroke="#1f2427" stroke-width="0.7"/>
<circle cx="48.20" cy="423.20" r="2.25" fill="#3e474e" stroke="#1f2427" stroke-width="0.7"/>
<circle cx="49.50" cy="425.70" r="2.25" fill="#3e474e" stroke="#1f2427" stroke-width="0.7"/>
<circle cx="62.00" cy="449.30" r="2.25" fill="#a3132c" stroke="#6a0819" stroke-width="0.7"/>
<circle cx="64.40" cy="450.90" r="2.25" fill="#a3132c" stroke="#6a0819" stroke-width="0.7"/>
<circle cx="62.00" cy="453.10" r="2.25" fill="#a3132c" stroke="#6a0819" stroke-width="0.7"/>
<circle cx="64.40" cy="455.10" r="2.25" fill="#a3132c" stroke="#6a0819" stroke-width="0.7"/>
<circle cx="62.00" cy="456.20" r="2.25" fill="#a3132c" stroke="#6a0819" stroke-width="0.7"/>
<circle cx="75.90" cy="381.20" r="2.25" fill="#3e474e" stroke="#1f2427" stroke-width="0.7"/>
<circle cx="75.90" cy="398.50" r="2.25" fill="#3e474e" stroke="#1f2427" stroke-width="0.7"/>
<circle cx="75.90" cy="402.80" r="2.25" fill="#3e474e" stroke="#1f2427" stroke-width="0.7"/>
<circle cx="75.90" cy="411.10" r="2.25" fill="#3e474e" stroke="#1f2427" stroke-width="0.7"/>
<circle cx="75.90" cy="416.60" r="2.25" fill="#3e474e" stroke="#1f2427" stroke-width="0.7"/>
<circle cx="89.80" cy="406.40" r="2.25" fill="#a3132c" stroke="#6a0819" stroke-width="0.7"/>
<circle cx="89.80" cy="411.10" r="2.25" fill="#a3132c" stroke="#6a0819" stroke-width="0.7"/>
<circle cx="89.80" cy="424.50" r="2.25" fill="#a3132c" stroke="#6a0819" stroke-width="0.7"/>
<circle cx="91.10" cy="426.80" r="2.25" fill="#a3132c" stroke="#6a0819" stroke-width="0.7"/>
<circle cx="89.80" cy="429.20" r="2.25" fill="#a3132c" stroke="#6a0819" stroke-width="0.7"/>
<circle cx="103.80" cy="384.80" r="2.25" fill="#3e474e" stroke="#1f2427" stroke-width="0.7"/>
<circle cx="103.80" cy="387.50" r="2.25" fill="#3e474e" stroke="#1f2427" stroke-width="0.7"/>
<circle cx="106.20" cy="389.10" r="2.25" fill="#3e474e" stroke="#1f2427" stroke-width="0.7"/>
<circle cx="103.80" cy="391.40" r="2.25" fill="#3e474e" stroke="#1f2427" stroke-width="0.7"/>
<circle cx="103.80" cy="402.50" r="2.25" fill="#3e474e" stroke="#1f2427" stroke-width="0.7"/>
<circle cx="103.80" cy="406.40" r="2.25" fill="#3e474e" stroke="#1f2427" stroke-width="0.7"/>
<circle cx="103.80" cy="411.90" r="2.25" fill="#3e474e" stroke="#1f2427" stroke-width="0.7"/>
<circle cx="106.20" cy="413.50" r="2.25" fill="#3e474e" stroke="#1f2427" stroke-width="0.7"/>
<circle cx="103.80" cy="420.50" r="2.25" fill="#3e474e" stroke="#1f2427" stroke-width="0.7"/>
<circle cx="103.80" cy="428.40" r="2.25" fill="#3e474e" stroke="#1f2427" stroke-width="0.7"/>
<circle cx="117.60" cy="446.20" r="2.25" fill="#a3132c" stroke="#6a0819" stroke-width="0.7"/>
<circle cx="117.60" cy="450.40" r="2.25" fill="#a3132c" stroke="#6a0819" stroke-width="0.7"/>
<circle cx="117.60" cy="453.60" r="2.25" fill="#a3132c" stroke="#6a0819" stroke-width="0.7"/>
<circle cx="118.90" cy="456.20" r="2.25" fill="#a3132c" stroke="#6a0819" stroke-width="0.7"/>
<circle cx="131.50" cy="392.20" r="2.25" fill="#3e474e" stroke="#1f2427" stroke-width="0.7"/>
<circle cx="132.80" cy="394.60" r="2.25" fill="#3e474e" stroke="#1f2427" stroke-width="0.7"/>
<circle cx="131.50" cy="398.50" r="2.25" fill="#3e474e" stroke="#1f2427" stroke-width="0.7"/>
<circle cx="132.80" cy="400.90" r="2.25" fill="#3e474e" stroke="#1f2427" stroke-width="0.7"/>
<circle cx="131.50" cy="406.90" r="2.25" fill="#3e474e" stroke="#1f2427" stroke-width="0.7"/>
<circle cx="133.90" cy="409.10" r="2.25" fill="#3e474e" stroke="#1f2427" stroke-width="0.7"/>
<circle cx="131.50" cy="414.20" r="2.25" fill="#3e474e" stroke="#1f2427" stroke-width="0.7"/>
<circle cx="133.90" cy="415.30" r="2.25" fill="#3e474e" stroke="#1f2427" stroke-width="0.7"/>
<circle cx="145.20" cy="393.80" r="2.25" fill="#a3132c" stroke="#6a0819" stroke-width="0.7"/>
<circle cx="145.20" cy="404.80" r="2.25" fill="#a3132c" stroke="#6a0819" stroke-width="0.7"/>
<circle cx="145.20" cy="408.00" r="2.25" fill="#a3132c" stroke="#6a0819" stroke-width="0.7"/>
<circle cx="145.20" cy="411.10" r="2.25" fill="#a3132c" stroke="#6a0819" stroke-width="0.7"/>
<circle cx="145.20" cy="414.20" r="2.25" fill="#a3132c" stroke="#6a0819" stroke-width="0.7"/>
<circle cx="145.20" cy="424.50" r="2.25" fill="#a3132c" stroke="#6a0819" stroke-width="0.7"/>
<circle cx="146.50" cy="426.80" r="2.25" fill="#a3132c" stroke="#6a0819" stroke-width="0.7"/>
<circle cx="145.20" cy="429.20" r="2.25" fill="#a3132c" stroke="#6a0819" stroke-width="0.7"/>
<circle cx="145.20" cy="441.40" r="2.25" fill="#a3132c" stroke="#6a0819" stroke-width="0.7"/>
<line x1="211.50" y1="366.20" x2="211.50" y2="459.40" stroke="#3a3a3a" stroke-width="1.1" />
<line x1="208.90" y1="458.90" x2="328.00" y2="458.90" stroke="#3a3a3a" stroke-width="1.1" />
<line x1="208.90" y1="458.80" x2="211.50" y2="458.80" stroke="#3a3a3a" stroke-width="1.0" />
<text x="205.90" y="461.70" font-size="8" text-anchor="end" font-weight="normal" fill="#222" style="stroke:#222" >0</text>
<line x1="208.90" y1="435.20" x2="211.50" y2="435.20" stroke="#3a3a3a" stroke-width="1.0" />
<text x="205.90" y="438.10" font-size="8" text-anchor="end" font-weight="normal" fill="#222" style="stroke:#222" >0.3</text>
<line x1="208.90" y1="411.40" x2="211.50" y2="411.40" stroke="#3a3a3a" stroke-width="1.0" />
<text x="205.90" y="414.30" font-size="8" text-anchor="end" font-weight="normal" fill="#222" style="stroke:#222" >0.6</text>
<line x1="208.90" y1="387.50" x2="211.50" y2="387.50" stroke="#3a3a3a" stroke-width="1.0" />
<text x="205.90" y="390.40" font-size="8" text-anchor="end" font-weight="normal" fill="#222" style="stroke:#222" >0.9</text>
<line x1="219.80" y1="458.90" x2="219.80" y2="461.90" stroke="#3a3a3a" stroke-width="0.9" />
<line x1="233.60" y1="458.90" x2="233.60" y2="461.90" stroke="#3a3a3a" stroke-width="0.9" />
<line x1="247.60" y1="458.90" x2="247.60" y2="461.90" stroke="#3a3a3a" stroke-width="0.9" />
<line x1="261.60" y1="458.90" x2="261.60" y2="461.90" stroke="#3a3a3a" stroke-width="0.9" />
<line x1="275.60" y1="458.90" x2="275.60" y2="461.90" stroke="#3a3a3a" stroke-width="0.9" />
<line x1="289.50" y1="458.90" x2="289.50" y2="461.90" stroke="#3a3a3a" stroke-width="0.9" />
<line x1="303.60" y1="458.90" x2="303.60" y2="461.90" stroke="#3a3a3a" stroke-width="0.9" />
<line x1="317.30" y1="458.90" x2="317.30" y2="461.90" stroke="#3a3a3a" stroke-width="0.9" />
<text x="269.50" y="360.40" font-size="9.4" text-anchor="middle" font-weight="normal" fill="#222" style="stroke:#222" >MEP</text>
<text transform="translate(187.40,412.40) rotate(-90)" font-size="7.5" text-anchor="middle" fill="#222">(%)</text>
<line x1="219.05" y1="374.70" x2="236.25" y2="374.70" stroke="#4a4a4a" stroke-width="1.2" />
<circle cx="226.15" cy="370.50" r="1.05" fill="#2a2a2a"/>
<circle cx="229.15" cy="370.50" r="1.05" fill="#2a2a2a"/>
<line x1="247.60" y1="374.70" x2="264.80" y2="374.70" stroke="#4a4a4a" stroke-width="1.2" />
<text x="256.50" y="371.80" font-size="6.8" text-anchor="middle" font-weight="normal" fill="#333" style="stroke:#333" >n.s.</text>
<line x1="275.10" y1="374.70" x2="292.30" y2="374.70" stroke="#4a4a4a" stroke-width="1.2" />
<circle cx="280.70" cy="370.50" r="1.05" fill="#2a2a2a"/>
<circle cx="283.70" cy="370.50" r="1.05" fill="#2a2a2a"/>
<circle cx="286.70" cy="370.50" r="1.05" fill="#2a2a2a"/>
<line x1="304.70" y1="374.70" x2="321.90" y2="374.70" stroke="#4a4a4a" stroke-width="1.2" />
<text x="313.60" y="371.80" font-size="6.8" text-anchor="middle" font-weight="normal" fill="#333" style="stroke:#333" >n.s.</text>
<text x="219.80" y="472.30" font-size="7.5" text-anchor="middle" font-weight="normal" fill="#222" style="stroke:#222" >–</text>
<text x="233.60" y="472.30" font-size="7.5" text-anchor="middle" font-weight="normal" fill="#222" style="stroke:#222" >+</text>
<text x="247.60" y="472.30" font-size="7.5" text-anchor="middle" font-weight="normal" fill="#222" style="stroke:#222" >–</text>
<text x="261.60" y="472.30" font-size="7.5" text-anchor="middle" font-weight="normal" fill="#222" style="stroke:#222" >+</text>
<text x="275.60" y="472.30" font-size="7.5" text-anchor="middle" font-weight="normal" fill="#222" style="stroke:#222" >–</text>
<text x="289.50" y="472.30" font-size="7.5" text-anchor="middle" font-weight="normal" fill="#222" style="stroke:#222" >+</text>
<text x="303.60" y="472.30" font-size="7.5" text-anchor="middle" font-weight="normal" fill="#222" style="stroke:#222" >–</text>
<text x="317.30" y="472.30" font-size="7.5" text-anchor="middle" font-weight="normal" fill="#222" style="stroke:#222" >+</text>
<text x="210.70" y="475.10" font-size="7.5" text-anchor="end" font-weight="normal" fill="#222" style="stroke:#222" >ropeg-</text>
<text x="209.90" y="483.70" font-size="7.5" text-anchor="end" font-weight="normal" fill="#222" style="stroke:#222" >IFN-α</text>
<line x1="215.50" y1="476.50" x2="236.90" y2="476.50" stroke="#333" stroke-width="0.9" />
<line x1="243.30" y1="476.50" x2="264.90" y2="476.50" stroke="#333" stroke-width="0.9" />
<line x1="271.30" y1="476.50" x2="292.80" y2="476.50" stroke="#333" stroke-width="0.9" />
<line x1="299.30" y1="476.50" x2="320.60" y2="476.50" stroke="#333" stroke-width="0.9" />
<text x="226.20" y="486.30" font-size="7.5" text-anchor="middle" font-weight="normal" fill="#222" style="stroke:#222" >WT</text>
<text x="243.30" y="486.30" font-size="7.5" fill="#222" font-style="italic">Tyk2<tspan font-size="4.6" dy="-3">−/−</tspan></text>
<text x="271.30" y="486.30" font-size="7.5" fill="#222" font-style="italic">Jak2</text>
<text x="271.30" y="495.50" font-size="7.5" fill="#222">V617F</text>
<text x="299.30" y="486.30" font-size="7.5" fill="#222"><tspan font-style="italic">Jak2</tspan>V617F;</text>
<text x="299.30" y="495.50" font-size="7.5" fill="#222" font-style="italic">Tyk2<tspan font-size="4.6" dy="-3">−/−</tspan></text>
<line x1="219.80" y1="388.00" x2="219.80" y2="413.00" stroke="#8f8f8f" stroke-width="0.9" />
<line x1="218.00" y1="388.00" x2="221.60" y2="388.00" stroke="#333" stroke-width="0.9" />
<line x1="218.00" y1="413.00" x2="221.60" y2="413.00" stroke="#333" stroke-width="0.9" />
<line x1="217.50" y1="400.00" x2="222.10" y2="400.00" stroke="#333" stroke-width="0.9" />
<line x1="261.60" y1="400.00" x2="261.60" y2="429.00" stroke="#8f8f8f" stroke-width="0.9" />
<line x1="259.80" y1="400.00" x2="263.40" y2="400.00" stroke="#333" stroke-width="0.9" />
<line x1="259.80" y1="429.00" x2="263.40" y2="429.00" stroke="#333" stroke-width="0.9" />
<line x1="259.30" y1="412.00" x2="263.90" y2="412.00" stroke="#333" stroke-width="0.9" />
<line x1="275.60" y1="399.50" x2="275.60" y2="443.10" stroke="#8f8f8f" stroke-width="0.9" />
<line x1="273.80" y1="399.50" x2="277.40" y2="399.50" stroke="#333" stroke-width="0.9" />
<line x1="273.80" y1="443.10" x2="277.40" y2="443.10" stroke="#333" stroke-width="0.9" />
<line x1="273.30" y1="421.00" x2="277.90" y2="421.00" stroke="#333" stroke-width="0.9" />
<line x1="247.60" y1="424.00" x2="247.60" y2="437.00" stroke="#8f8f8f" stroke-width="0.9" />
<line x1="245.80" y1="424.00" x2="249.40" y2="424.00" stroke="#333" stroke-width="0.9" />
<line x1="245.80" y1="437.00" x2="249.40" y2="437.00" stroke="#333" stroke-width="0.9" />
<line x1="245.30" y1="430.00" x2="249.90" y2="430.00" stroke="#333" stroke-width="0.9" />
<circle cx="219.80" cy="381.40" r="2.25" fill="#3e474e" stroke="#1f2427" stroke-width="0.7"/>
<circle cx="219.80" cy="393.20" r="2.25" fill="#3e474e" stroke="#1f2427" stroke-width="0.7"/>
<circle cx="219.80" cy="400.30" r="2.25" fill="#3e474e" stroke="#1f2427" stroke-width="0.7"/>
<circle cx="222.20" cy="402.00" r="2.25" fill="#3e474e" stroke="#1f2427" stroke-width="0.7"/>
<circle cx="219.80" cy="411.80" r="2.25" fill="#3e474e" stroke="#1f2427" stroke-width="0.7"/>
<circle cx="219.80" cy="417.60" r="2.25" fill="#3e474e" stroke="#1f2427" stroke-width="0.7"/>
<circle cx="233.60" cy="450.90" r="2.25" fill="#a3132c" stroke="#6a0819" stroke-width="0.7"/>
<circle cx="233.60" cy="454.20" r="2.25" fill="#a3132c" stroke="#6a0819" stroke-width="0.7"/>
<circle cx="236.00" cy="456.30" r="2.25" fill="#a3132c" stroke="#6a0819" stroke-width="0.7"/>
<circle cx="233.60" cy="458.00" r="2.25" fill="#a3132c" stroke="#6a0819" stroke-width="0.7"/>
<circle cx="247.60" cy="426.70" r="2.25" fill="#3e474e" stroke="#1f2427" stroke-width="0.7"/>
<circle cx="247.60" cy="430.00" r="2.25" fill="#3e474e" stroke="#1f2427" stroke-width="0.7"/>
<circle cx="247.60" cy="438.70" r="2.25" fill="#3e474e" stroke="#1f2427" stroke-width="0.7"/>
<circle cx="261.60" cy="399.80" r="2.25" fill="#a3132c" stroke="#6a0819" stroke-width="0.7"/>
<circle cx="261.60" cy="409.40" r="2.25" fill="#a3132c" stroke="#6a0819" stroke-width="0.7"/>
<circle cx="262.90" cy="411.80" r="2.25" fill="#a3132c" stroke="#6a0819" stroke-width="0.7"/>
<circle cx="261.60" cy="416.30" r="2.25" fill="#a3132c" stroke="#6a0819" stroke-width="0.7"/>
<circle cx="261.60" cy="439.80" r="2.25" fill="#a3132c" stroke="#6a0819" stroke-width="0.7"/>
<circle cx="275.60" cy="380.50" r="2.25" fill="#3e474e" stroke="#1f2427" stroke-width="0.7"/>
<circle cx="275.60" cy="390.40" r="2.25" fill="#3e474e" stroke="#1f2427" stroke-width="0.7"/>
<circle cx="275.60" cy="418.40" r="2.25" fill="#3e474e" stroke="#1f2427" stroke-width="0.7"/>
<circle cx="278.00" cy="420.10" r="2.25" fill="#3e474e" stroke="#1f2427" stroke-width="0.7"/>
<circle cx="275.60" cy="421.70" r="2.25" fill="#3e474e" stroke="#1f2427" stroke-width="0.7"/>
<circle cx="275.60" cy="430.00" r="2.25" fill="#3e474e" stroke="#1f2427" stroke-width="0.7"/>
<circle cx="276.90" cy="432.40" r="2.25" fill="#3e474e" stroke="#1f2427" stroke-width="0.7"/>
<circle cx="275.60" cy="439.30" r="2.25" fill="#3e474e" stroke="#1f2427" stroke-width="0.7"/>
<circle cx="289.50" cy="450.60" r="2.25" fill="#a3132c" stroke="#6a0819" stroke-width="0.7"/>
<circle cx="290.80" cy="453.00" r="2.25" fill="#a3132c" stroke="#6a0819" stroke-width="0.7"/>
<circle cx="289.50" cy="455.50" r="2.25" fill="#a3132c" stroke="#6a0819" stroke-width="0.7"/>
<circle cx="291.90" cy="457.10" r="2.25" fill="#a3132c" stroke="#6a0819" stroke-width="0.7"/>
<circle cx="303.60" cy="413.50" r="2.25" fill="#3e474e" stroke="#1f2427" stroke-width="0.7"/>
<circle cx="303.60" cy="423.40" r="2.25" fill="#3e474e" stroke="#1f2427" stroke-width="0.7"/>
<circle cx="304.90" cy="425.80" r="2.25" fill="#3e474e" stroke="#1f2427" stroke-width="0.7"/>
<circle cx="303.60" cy="431.60" r="2.25" fill="#3e474e" stroke="#1f2427" stroke-width="0.7"/>
<circle cx="304.90" cy="434.10" r="2.25" fill="#3e474e" stroke="#1f2427" stroke-width="0.7"/>
<circle cx="303.60" cy="436.50" r="2.25" fill="#3e474e" stroke="#1f2427" stroke-width="0.7"/>
<circle cx="303.60" cy="440.70" r="2.25" fill="#3e474e" stroke="#1f2427" stroke-width="0.7"/>
<circle cx="303.60" cy="446.40" r="2.25" fill="#3e474e" stroke="#1f2427" stroke-width="0.7"/>
<circle cx="317.30" cy="423.40" r="2.25" fill="#a3132c" stroke="#6a0819" stroke-width="0.7"/>
<circle cx="318.60" cy="425.80" r="2.25" fill="#a3132c" stroke="#6a0819" stroke-width="0.7"/>
<circle cx="317.30" cy="430.00" r="2.25" fill="#a3132c" stroke="#6a0819" stroke-width="0.7"/>
<circle cx="317.30" cy="435.70" r="2.25" fill="#a3132c" stroke="#6a0819" stroke-width="0.7"/>
<circle cx="319.70" cy="437.40" r="2.25" fill="#a3132c" stroke="#6a0819" stroke-width="0.7"/>
<circle cx="317.30" cy="439.80" r="2.25" fill="#a3132c" stroke="#6a0819" stroke-width="0.7"/>
<circle cx="317.30" cy="443.10" r="2.25" fill="#a3132c" stroke="#6a0819" stroke-width="0.7"/>
<circle cx="317.30" cy="447.30" r="2.25" fill="#a3132c" stroke="#6a0819" stroke-width="0.7"/>
<line x1="386.80" y1="366.20" x2="386.80" y2="459.40" stroke="#3a3a3a" stroke-width="1.1" />
<line x1="384.20" y1="458.90" x2="500.50" y2="458.90" stroke="#3a3a3a" stroke-width="1.1" />
<line x1="384.20" y1="458.80" x2="386.80" y2="458.80" stroke="#3a3a3a" stroke-width="1.0" />
<text x="381.20" y="461.70" font-size="8" text-anchor="end" font-weight="normal" fill="#222" style="stroke:#222" >0</text>
<line x1="384.20" y1="433.70" x2="386.80" y2="433.70" stroke="#3a3a3a" stroke-width="1.0" />
<text x="381.20" y="436.60" font-size="8" text-anchor="end" font-weight="normal" fill="#222" style="stroke:#222" >0.02</text>
<line x1="384.20" y1="408.50" x2="386.80" y2="408.50" stroke="#3a3a3a" stroke-width="1.0" />
<text x="381.20" y="411.40" font-size="8" text-anchor="end" font-weight="normal" fill="#222" style="stroke:#222" >0.04</text>
<line x1="384.20" y1="383.30" x2="386.80" y2="383.30" stroke="#3a3a3a" stroke-width="1.0" />
<text x="381.20" y="386.20" font-size="8" text-anchor="end" font-weight="normal" fill="#222" style="stroke:#222" >0.06</text>
<line x1="394.80" y1="458.90" x2="394.80" y2="461.90" stroke="#3a3a3a" stroke-width="0.9" />
<line x1="408.60" y1="458.90" x2="408.60" y2="461.90" stroke="#3a3a3a" stroke-width="0.9" />
<line x1="422.80" y1="458.90" x2="422.80" y2="461.90" stroke="#3a3a3a" stroke-width="0.9" />
<line x1="436.80" y1="458.90" x2="436.80" y2="461.90" stroke="#3a3a3a" stroke-width="0.9" />
<line x1="450.40" y1="458.90" x2="450.40" y2="461.90" stroke="#3a3a3a" stroke-width="0.9" />
<line x1="464.00" y1="458.90" x2="464.00" y2="461.90" stroke="#3a3a3a" stroke-width="0.9" />
<line x1="478.30" y1="458.90" x2="478.30" y2="461.90" stroke="#3a3a3a" stroke-width="0.9" />
<line x1="492.30" y1="458.90" x2="492.30" y2="461.90" stroke="#3a3a3a" stroke-width="0.9" />
<text x="443.65" y="360.40" font-size="8.9" text-anchor="middle" font-weight="normal" fill="#222" style="stroke:#222" >Proportion of LT-HSC</text>
<text transform="translate(358.90,412.40) rotate(-90)" font-size="7.5" text-anchor="middle" fill="#222">(%)</text>
<line x1="392.10" y1="375.80" x2="409.30" y2="375.80" stroke="#4a4a4a" stroke-width="1.2" />
<circle cx="399.20" cy="371.60" r="1.05" fill="#2a2a2a"/>
<circle cx="402.20" cy="371.60" r="1.05" fill="#2a2a2a"/>
<line x1="420.60" y1="375.80" x2="437.80" y2="375.80" stroke="#4a4a4a" stroke-width="1.2" />
<text x="429.50" y="372.90" font-size="6.8" text-anchor="middle" font-weight="normal" fill="#333" style="stroke:#333" >n.s.</text>
<line x1="448.20" y1="375.80" x2="465.40" y2="375.80" stroke="#4a4a4a" stroke-width="1.2" />
<circle cx="456.80" cy="371.60" r="1.05" fill="#2a2a2a"/>
<line x1="476.60" y1="375.80" x2="493.80" y2="375.80" stroke="#4a4a4a" stroke-width="1.2" />
<text x="485.50" y="372.90" font-size="6.8" text-anchor="middle" font-weight="normal" fill="#333" style="stroke:#333" >n.s.</text>
<text x="394.80" y="472.30" font-size="7.5" text-anchor="middle" font-weight="normal" fill="#222" style="stroke:#222" >–</text>
<text x="408.60" y="472.30" font-size="7.5" text-anchor="middle" font-weight="normal" fill="#222" style="stroke:#222" >+</text>
<text x="422.80" y="472.30" font-size="7.5" text-anchor="middle" font-weight="normal" fill="#222" style="stroke:#222" >–</text>
<text x="436.80" y="472.30" font-size="7.5" text-anchor="middle" font-weight="normal" fill="#222" style="stroke:#222" >+</text>
<text x="450.40" y="472.30" font-size="7.5" text-anchor="middle" font-weight="normal" fill="#222" style="stroke:#222" >–</text>
<text x="464.00" y="472.30" font-size="7.5" text-anchor="middle" font-weight="normal" fill="#222" style="stroke:#222" >+</text>
<text x="478.30" y="472.30" font-size="7.5" text-anchor="middle" font-weight="normal" fill="#222" style="stroke:#222" >–</text>
<text x="492.30" y="472.30" font-size="7.5" text-anchor="middle" font-weight="normal" fill="#222" style="stroke:#222" >+</text>
<text x="386.00" y="475.10" font-size="7.5" text-anchor="end" font-weight="normal" fill="#222" style="stroke:#222" >ropeg-</text>
<text x="385.20" y="483.70" font-size="7.5" text-anchor="end" font-weight="normal" fill="#222" style="stroke:#222" >IFN-α</text>
<line x1="390.50" y1="476.50" x2="411.90" y2="476.50" stroke="#333" stroke-width="0.9" />
<line x1="418.50" y1="476.50" x2="440.10" y2="476.50" stroke="#333" stroke-width="0.9" />
<line x1="446.10" y1="476.50" x2="467.30" y2="476.50" stroke="#333" stroke-width="0.9" />
<line x1="474.00" y1="476.50" x2="495.60" y2="476.50" stroke="#333" stroke-width="0.9" />
<text x="401.20" y="486.30" font-size="7.5" text-anchor="middle" font-weight="normal" fill="#222" style="stroke:#222" >WT</text>
<text x="418.50" y="486.30" font-size="7.5" fill="#222" font-style="italic">Tyk2<tspan font-size="4.6" dy="-3">−/−</tspan></text>
<text x="446.10" y="486.30" font-size="7.5" fill="#222" font-style="italic">Jak2</text>
<text x="446.10" y="495.50" font-size="7.5" fill="#222">V617F</text>
<text x="474.00" y="486.30" font-size="7.5" fill="#222"><tspan font-style="italic">Jak2</tspan>V617F;</text>
<text x="474.00" y="495.50" font-size="7.5" fill="#222" font-style="italic">Tyk2<tspan font-size="4.6" dy="-3">−/−</tspan></text>
<line x1="394.80" y1="404.40" x2="394.80" y2="421.00" stroke="#8f8f8f" stroke-width="0.9" />
<line x1="393.00" y1="404.40" x2="396.60" y2="404.40" stroke="#333" stroke-width="0.9" />
<line x1="393.00" y1="421.00" x2="396.60" y2="421.00" stroke="#333" stroke-width="0.9" />
<line x1="392.50" y1="411.00" x2="397.10" y2="411.00" stroke="#333" stroke-width="0.9" />
<line x1="422.80" y1="401.00" x2="422.80" y2="420.00" stroke="#8f8f8f" stroke-width="0.9" />
<line x1="421.00" y1="401.00" x2="424.60" y2="401.00" stroke="#333" stroke-width="0.9" />
<line x1="421.00" y1="420.00" x2="424.60" y2="420.00" stroke="#333" stroke-width="0.9" />
<line x1="420.50" y1="412.00" x2="425.10" y2="412.00" stroke="#333" stroke-width="0.9" />
<line x1="478.30" y1="413.50" x2="478.30" y2="458.00" stroke="#8f8f8f" stroke-width="0.9" />
<line x1="476.50" y1="413.50" x2="480.10" y2="413.50" stroke="#333" stroke-width="0.9" />
<line x1="476.50" y1="458.00" x2="480.10" y2="458.00" stroke="#333" stroke-width="0.9" />
<line x1="476.00" y1="437.00" x2="480.60" y2="437.00" stroke="#333" stroke-width="0.9" />
<line x1="492.30" y1="420.00" x2="492.30" y2="458.00" stroke="#8f8f8f" stroke-width="0.9" />
<line x1="490.50" y1="420.00" x2="494.10" y2="420.00" stroke="#333" stroke-width="0.9" />
<line x1="490.50" y1="458.00" x2="494.10" y2="458.00" stroke="#333" stroke-width="0.9" />
<line x1="490.00" y1="441.00" x2="494.60" y2="441.00" stroke="#333" stroke-width="0.9" />
<circle cx="394.80" cy="398.20" r="2.25" fill="#3e474e" stroke="#1f2427" stroke-width="0.7"/>
<circle cx="394.80" cy="410.20" r="2.25" fill="#3e474e" stroke="#1f2427" stroke-width="0.7"/>
<circle cx="397.20" cy="411.80" r="2.25" fill="#3e474e" stroke="#1f2427" stroke-width="0.7"/>
<circle cx="394.80" cy="414.30" r="2.25" fill="#3e474e" stroke="#1f2427" stroke-width="0.7"/>
<circle cx="394.80" cy="418.40" r="2.25" fill="#3e474e" stroke="#1f2427" stroke-width="0.7"/>
<circle cx="397.20" cy="420.10" r="2.25" fill="#3e474e" stroke="#1f2427" stroke-width="0.7"/>
<circle cx="394.80" cy="422.50" r="2.25" fill="#3e474e" stroke="#1f2427" stroke-width="0.7"/>
<circle cx="408.60" cy="440.70" r="2.25" fill="#a3132c" stroke="#6a0819" stroke-width="0.7"/>
<circle cx="408.60" cy="448.10" r="2.25" fill="#a3132c" stroke="#6a0819" stroke-width="0.7"/>
<circle cx="411.00" cy="449.70" r="2.25" fill="#a3132c" stroke="#6a0819" stroke-width="0.7"/>
<circle cx="408.60" cy="453.80" r="2.25" fill="#a3132c" stroke="#6a0819" stroke-width="0.7"/>
<circle cx="411.00" cy="455.80" r="2.25" fill="#a3132c" stroke="#6a0819" stroke-width="0.7"/>
<circle cx="422.80" cy="399.20" r="2.25" fill="#3e474e" stroke="#1f2427" stroke-width="0.7"/>
<circle cx="422.80" cy="406.90" r="2.25" fill="#3e474e" stroke="#1f2427" stroke-width="0.7"/>
<circle cx="422.80" cy="416.80" r="2.25" fill="#3e474e" stroke="#1f2427" stroke-width="0.7"/>
<circle cx="422.80" cy="420.10" r="2.25" fill="#3e474e" stroke="#1f2427" stroke-width="0.7"/>
<circle cx="422.80" cy="423.40" r="2.25" fill="#3e474e" stroke="#1f2427" stroke-width="0.7"/>
<circle cx="436.80" cy="403.10" r="2.25" fill="#a3132c" stroke="#6a0819" stroke-width="0.7"/>
<circle cx="438.10" cy="405.70" r="2.25" fill="#a3132c" stroke="#6a0819" stroke-width="0.7"/>
<circle cx="435.50" cy="407.70" r="2.25" fill="#a3132c" stroke="#6a0819" stroke-width="0.7"/>
<circle cx="436.80" cy="413.50" r="2.25" fill="#a3132c" stroke="#6a0819" stroke-width="0.7"/>
<circle cx="436.80" cy="420.60" r="2.25" fill="#a3132c" stroke="#6a0819" stroke-width="0.7"/>
<circle cx="450.40" cy="433.70" r="2.25" fill="#3e474e" stroke="#1f2427" stroke-width="0.7"/>
<circle cx="450.40" cy="442.30" r="2.25" fill="#3e474e" stroke="#1f2427" stroke-width="0.7"/>
<circle cx="450.40" cy="445.60" r="2.25" fill="#3e474e" stroke="#1f2427" stroke-width="0.7"/>
<circle cx="452.80" cy="447.30" r="2.25" fill="#3e474e" stroke="#1f2427" stroke-width="0.7"/>
<circle cx="450.40" cy="449.70" r="2.25" fill="#3e474e" stroke="#1f2427" stroke-width="0.7"/>
<circle cx="452.80" cy="451.40" r="2.25" fill="#3e474e" stroke="#1f2427" stroke-width="0.7"/>
<circle cx="464.00" cy="455.50" r="2.25" fill="#a3132c" stroke="#6a0819" stroke-width="0.7"/>
<circle cx="466.40" cy="457.10" r="2.25" fill="#a3132c" stroke="#6a0819" stroke-width="0.7"/>
<circle cx="462.70" cy="458.00" r="2.25" fill="#a3132c" stroke="#6a0819" stroke-width="0.7"/>
<circle cx="478.30" cy="388.30" r="2.25" fill="#3e474e" stroke="#1f2427" stroke-width="0.7"/>
<circle cx="478.30" cy="406.90" r="2.25" fill="#3e474e" stroke="#1f2427" stroke-width="0.7"/>
<circle cx="478.30" cy="429.10" r="2.25" fill="#3e474e" stroke="#1f2427" stroke-width="0.7"/>
<circle cx="480.70" cy="431.10" r="2.25" fill="#3e474e" stroke="#1f2427" stroke-width="0.7"/>
<circle cx="478.30" cy="433.30" r="2.25" fill="#3e474e" stroke="#1f2427" stroke-width="0.7"/>
<circle cx="478.30" cy="436.50" r="2.25" fill="#3e474e" stroke="#1f2427" stroke-width="0.7"/>
<circle cx="478.30" cy="443.10" r="2.25" fill="#3e474e" stroke="#1f2427" stroke-width="0.7"/>
<circle cx="479.60" cy="445.60" r="2.25" fill="#3e474e" stroke="#1f2427" stroke-width="0.7"/>
<circle cx="478.30" cy="453.00" r="2.25" fill="#3e474e" stroke="#1f2427" stroke-width="0.7"/>
<circle cx="478.30" cy="456.30" r="2.25" fill="#3e474e" stroke="#1f2427" stroke-width="0.7"/>
<circle cx="480.70" cy="458.00" r="2.25" fill="#3e474e" stroke="#1f2427" stroke-width="0.7"/>
<circle cx="492.30" cy="379.70" r="2.25" fill="#a3132c" stroke="#6a0819" stroke-width="0.7"/>
<circle cx="492.30" cy="411.80" r="2.25" fill="#a3132c" stroke="#6a0819" stroke-width="0.7"/>
<circle cx="492.30" cy="418.40" r="2.25" fill="#a3132c" stroke="#6a0819" stroke-width="0.7"/>
<circle cx="492.30" cy="430.80" r="2.25" fill="#a3132c" stroke="#6a0819" stroke-width="0.7"/>
<circle cx="492.30" cy="435.70" r="2.25" fill="#a3132c" stroke="#6a0819" stroke-width="0.7"/>
<circle cx="492.30" cy="441.50" r="2.25" fill="#a3132c" stroke="#6a0819" stroke-width="0.7"/>
<circle cx="492.30" cy="444.80" r="2.25" fill="#a3132c" stroke="#6a0819" stroke-width="0.7"/>
<circle cx="492.30" cy="448.10" r="2.25" fill="#a3132c" stroke="#6a0819" stroke-width="0.7"/>
<circle cx="493.60" cy="450.60" r="2.25" fill="#a3132c" stroke="#6a0819" stroke-width="0.7"/>
<circle cx="492.30" cy="453.80" r="2.25" fill="#a3132c" stroke="#6a0819" stroke-width="0.7"/>
<circle cx="494.70" cy="455.80" r="2.25" fill="#a3132c" stroke="#6a0819" stroke-width="0.7"/>
<line x1="39.50" y1="529.40" x2="39.50" y2="622.70" stroke="#3a3a3a" stroke-width="1.1" />
<line x1="36.90" y1="622.20" x2="156.40" y2="622.20" stroke="#3a3a3a" stroke-width="1.1" />
<line x1="36.90" y1="621.90" x2="39.50" y2="621.90" stroke="#3a3a3a" stroke-width="1.0" />
<text x="33.90" y="624.80" font-size="8" text-anchor="end" font-weight="normal" fill="#222" style="stroke:#222" >0</text>
<line x1="36.90" y1="598.20" x2="39.50" y2="598.20" stroke="#3a3a3a" stroke-width="1.0" />
<text x="33.90" y="601.10" font-size="8" text-anchor="end" font-weight="normal" fill="#222" style="stroke:#222" >0.1</text>
<line x1="36.90" y1="574.60" x2="39.50" y2="574.60" stroke="#3a3a3a" stroke-width="1.0" />
<text x="33.90" y="577.50" font-size="8" text-anchor="end" font-weight="normal" fill="#222" style="stroke:#222" >0.2</text>
<line x1="36.90" y1="550.70" x2="39.50" y2="550.70" stroke="#3a3a3a" stroke-width="1.0" />
<text x="33.90" y="553.60" font-size="8" text-anchor="end" font-weight="normal" fill="#222" style="stroke:#222" >0.3</text>
<line x1="48.00" y1="622.20" x2="48.00" y2="625.20" stroke="#3a3a3a" stroke-width="0.9" />
<line x1="62.00" y1="622.20" x2="62.00" y2="625.20" stroke="#3a3a3a" stroke-width="0.9" />
<line x1="76.30" y1="622.20" x2="76.30" y2="625.20" stroke="#3a3a3a" stroke-width="0.9" />
<line x1="90.50" y1="622.20" x2="90.50" y2="625.20" stroke="#3a3a3a" stroke-width="0.9" />
<line x1="104.40" y1="622.20" x2="104.40" y2="625.20" stroke="#3a3a3a" stroke-width="0.9" />
<line x1="119.00" y1="622.20" x2="119.00" y2="625.20" stroke="#3a3a3a" stroke-width="0.9" />
<line x1="132.80" y1="622.20" x2="132.80" y2="625.20" stroke="#3a3a3a" stroke-width="0.9" />
<line x1="147.20" y1="622.20" x2="147.20" y2="625.20" stroke="#3a3a3a" stroke-width="0.9" />
<text x="98.10" y="517.10" font-size="9.4" text-anchor="middle" font-weight="normal" fill="#222" style="stroke:#222" >MKP</text>
<text transform="translate(16.30,575.60) rotate(-90)" font-size="7.5" text-anchor="middle" fill="#222">(%)</text>
<line x1="45.65" y1="528.90" x2="62.85" y2="528.90" stroke="#4a4a4a" stroke-width="1.2" />
<circle cx="52.75" cy="524.70" r="1.05" fill="#2a2a2a"/>
<circle cx="55.75" cy="524.70" r="1.05" fill="#2a2a2a"/>
<line x1="73.70" y1="528.90" x2="90.90" y2="528.90" stroke="#4a4a4a" stroke-width="1.2" />
<text x="82.60" y="526.00" font-size="6.8" text-anchor="middle" font-weight="normal" fill="#333" style="stroke:#333" >n.s.</text>
<line x1="101.40" y1="528.90" x2="118.60" y2="528.90" stroke="#4a4a4a" stroke-width="1.2" />
<circle cx="107.00" cy="524.70" r="1.05" fill="#2a2a2a"/>
<circle cx="110.00" cy="524.70" r="1.05" fill="#2a2a2a"/>
<circle cx="113.00" cy="524.70" r="1.05" fill="#2a2a2a"/>
<line x1="130.90" y1="528.90" x2="148.10" y2="528.90" stroke="#4a4a4a" stroke-width="1.2" />
<text x="139.80" y="526.00" font-size="6.8" text-anchor="middle" font-weight="normal" fill="#333" style="stroke:#333" >n.s.</text>
<text x="48.00" y="635.60" font-size="7.5" text-anchor="middle" font-weight="normal" fill="#222" style="stroke:#222" >–</text>
<text x="62.00" y="635.60" font-size="7.5" text-anchor="middle" font-weight="normal" fill="#222" style="stroke:#222" >+</text>
<text x="76.30" y="635.60" font-size="7.5" text-anchor="middle" font-weight="normal" fill="#222" style="stroke:#222" >–</text>
<text x="90.50" y="635.60" font-size="7.5" text-anchor="middle" font-weight="normal" fill="#222" style="stroke:#222" >+</text>
<text x="104.40" y="635.60" font-size="7.5" text-anchor="middle" font-weight="normal" fill="#222" style="stroke:#222" >–</text>
<text x="119.00" y="635.60" font-size="7.5" text-anchor="middle" font-weight="normal" fill="#222" style="stroke:#222" >+</text>
<text x="132.80" y="635.60" font-size="7.5" text-anchor="middle" font-weight="normal" fill="#222" style="stroke:#222" >–</text>
<text x="147.20" y="635.60" font-size="7.5" text-anchor="middle" font-weight="normal" fill="#222" style="stroke:#222" >+</text>
<text x="38.70" y="638.40" font-size="7.5" text-anchor="end" font-weight="normal" fill="#222" style="stroke:#222" >ropeg-</text>
<text x="37.90" y="647.00" font-size="7.5" text-anchor="end" font-weight="normal" fill="#222" style="stroke:#222" >IFN-α</text>
<line x1="43.70" y1="639.80" x2="65.30" y2="639.80" stroke="#333" stroke-width="0.9" />
<line x1="72.00" y1="639.80" x2="93.80" y2="639.80" stroke="#333" stroke-width="0.9" />
<line x1="100.10" y1="639.80" x2="122.30" y2="639.80" stroke="#333" stroke-width="0.9" />
<line x1="128.50" y1="639.80" x2="150.50" y2="639.80" stroke="#333" stroke-width="0.9" />
<text x="54.50" y="649.60" font-size="7.5" text-anchor="middle" font-weight="normal" fill="#222" style="stroke:#222" >WT</text>
<text x="72.00" y="649.60" font-size="7.5" fill="#222" font-style="italic">Tyk2<tspan font-size="4.6" dy="-3">−/−</tspan></text>
<text x="100.10" y="649.60" font-size="7.5" fill="#222" font-style="italic">Jak2</text>
<text x="100.10" y="658.80" font-size="7.5" fill="#222">V617F</text>
<text x="128.50" y="649.60" font-size="7.5" fill="#222"><tspan font-style="italic">Jak2</tspan>V617F;</text>
<text x="128.50" y="658.80" font-size="7.5" fill="#222" font-style="italic">Tyk2<tspan font-size="4.6" dy="-3">−/−</tspan></text>
<line x1="48.00" y1="557.40" x2="48.00" y2="579.00" stroke="#8f8f8f" stroke-width="0.9" />
<line x1="46.20" y1="557.40" x2="49.80" y2="557.40" stroke="#333" stroke-width="0.9" />
<line x1="46.20" y1="579.00" x2="49.80" y2="579.00" stroke="#333" stroke-width="0.9" />
<line x1="45.70" y1="568.00" x2="50.30" y2="568.00" stroke="#333" stroke-width="0.9" />
<line x1="62.00" y1="595.20" x2="62.00" y2="612.00" stroke="#8f8f8f" stroke-width="0.9" />
<line x1="60.20" y1="595.20" x2="63.80" y2="595.20" stroke="#333" stroke-width="0.9" />
<line x1="60.20" y1="612.00" x2="63.80" y2="612.00" stroke="#333" stroke-width="0.9" />
<line x1="59.70" y1="604.00" x2="64.30" y2="604.00" stroke="#333" stroke-width="0.9" />
<line x1="76.30" y1="547.50" x2="76.30" y2="568.00" stroke="#8f8f8f" stroke-width="0.9" />
<line x1="74.50" y1="547.50" x2="78.10" y2="547.50" stroke="#333" stroke-width="0.9" />
<line x1="74.50" y1="568.00" x2="78.10" y2="568.00" stroke="#333" stroke-width="0.9" />
<line x1="74.00" y1="556.00" x2="78.60" y2="556.00" stroke="#333" stroke-width="0.9" />
<line x1="90.50" y1="560.60" x2="90.50" y2="597.00" stroke="#8f8f8f" stroke-width="0.9" />
<line x1="88.70" y1="560.60" x2="92.30" y2="560.60" stroke="#333" stroke-width="0.9" />
<line x1="88.70" y1="597.00" x2="92.30" y2="597.00" stroke="#333" stroke-width="0.9" />
<line x1="88.20" y1="579.00" x2="92.80" y2="579.00" stroke="#333" stroke-width="0.9" />
<line x1="104.40" y1="562.00" x2="104.40" y2="588.00" stroke="#8f8f8f" stroke-width="0.9" />
<line x1="102.60" y1="562.00" x2="106.20" y2="562.00" stroke="#333" stroke-width="0.9" />
<line x1="102.60" y1="588.00" x2="106.20" y2="588.00" stroke="#333" stroke-width="0.9" />
<line x1="102.10" y1="575.00" x2="106.70" y2="575.00" stroke="#333" stroke-width="0.9" />
<line x1="132.80" y1="560.00" x2="132.80" y2="592.00" stroke="#8f8f8f" stroke-width="0.9" />
<line x1="131.00" y1="560.00" x2="134.60" y2="560.00" stroke="#333" stroke-width="0.9" />
<line x1="131.00" y1="592.00" x2="134.60" y2="592.00" stroke="#333" stroke-width="0.9" />
<line x1="130.50" y1="576.00" x2="135.10" y2="576.00" stroke="#333" stroke-width="0.9" />
<line x1="147.20" y1="565.00" x2="147.20" y2="597.00" stroke="#8f8f8f" stroke-width="0.9" />
<line x1="145.40" y1="565.00" x2="149.00" y2="565.00" stroke="#333" stroke-width="0.9" />
<line x1="145.40" y1="597.00" x2="149.00" y2="597.00" stroke="#333" stroke-width="0.9" />
<line x1="144.90" y1="581.00" x2="149.50" y2="581.00" stroke="#333" stroke-width="0.9" />
<circle cx="48.00" cy="548.30" r="2.25" fill="#3e474e" stroke="#1f2427" stroke-width="0.7"/>
<circle cx="48.00" cy="562.50" r="2.25" fill="#3e474e" stroke="#1f2427" stroke-width="0.7"/>
<circle cx="48.00" cy="570.30" r="2.25" fill="#3e474e" stroke="#1f2427" stroke-width="0.7"/>
<circle cx="48.00" cy="575.80" r="2.25" fill="#3e474e" stroke="#1f2427" stroke-width="0.7"/>
<circle cx="48.00" cy="580.10" r="2.25" fill="#3e474e" stroke="#1f2427" stroke-width="0.7"/>
<circle cx="62.00" cy="584.50" r="2.25" fill="#a3132c" stroke="#6a0819" stroke-width="0.7"/>
<circle cx="62.00" cy="599.90" r="2.25" fill="#a3132c" stroke="#6a0819" stroke-width="0.7"/>
<circle cx="62.00" cy="606.50" r="2.25" fill="#a3132c" stroke="#6a0819" stroke-width="0.7"/>
<circle cx="62.00" cy="609.60" r="2.25" fill="#a3132c" stroke="#6a0819" stroke-width="0.7"/>
<circle cx="63.30" cy="612.00" r="2.25" fill="#a3132c" stroke="#6a0819" stroke-width="0.7"/>
<circle cx="62.00" cy="614.30" r="2.25" fill="#a3132c" stroke="#6a0819" stroke-width="0.7"/>
<circle cx="76.30" cy="538.60" r="2.25" fill="#3e474e" stroke="#1f2427" stroke-width="0.7"/>
<circle cx="76.30" cy="551.40" r="2.25" fill="#3e474e" stroke="#1f2427" stroke-width="0.7"/>
<circle cx="76.30" cy="561.20" r="2.25" fill="#3e474e" stroke="#1f2427" stroke-width="0.7"/>
<circle cx="78.70" cy="563.20" r="2.25" fill="#3e474e" stroke="#1f2427" stroke-width="0.7"/>
<circle cx="76.30" cy="565.30" r="2.25" fill="#3e474e" stroke="#1f2427" stroke-width="0.7"/>
<circle cx="90.50" cy="552.70" r="2.25" fill="#a3132c" stroke="#6a0819" stroke-width="0.7"/>
<circle cx="90.50" cy="568.70" r="2.25" fill="#a3132c" stroke="#6a0819" stroke-width="0.7"/>
<circle cx="90.50" cy="571.90" r="2.25" fill="#a3132c" stroke="#6a0819" stroke-width="0.7"/>
<circle cx="90.50" cy="584.20" r="2.25" fill="#a3132c" stroke="#6a0819" stroke-width="0.7"/>
<circle cx="90.50" cy="596.30" r="2.25" fill="#a3132c" stroke="#6a0819" stroke-width="0.7"/>
<circle cx="90.50" cy="600.20" r="2.25" fill="#a3132c" stroke="#6a0819" stroke-width="0.7"/>
<circle cx="104.40" cy="557.00" r="2.25" fill="#3e474e" stroke="#1f2427" stroke-width="0.7"/>
<circle cx="104.40" cy="563.20" r="2.25" fill="#3e474e" stroke="#1f2427" stroke-width="0.7"/>
<circle cx="104.40" cy="568.00" r="2.25" fill="#3e474e" stroke="#1f2427" stroke-width="0.7"/>
<circle cx="105.70" cy="570.30" r="2.25" fill="#3e474e" stroke="#1f2427" stroke-width="0.7"/>
<circle cx="104.40" cy="572.70" r="2.25" fill="#3e474e" stroke="#1f2427" stroke-width="0.7"/>
<circle cx="104.40" cy="581.30" r="2.25" fill="#3e474e" stroke="#1f2427" stroke-width="0.7"/>
<circle cx="104.40" cy="591.50" r="2.25" fill="#3e474e" stroke="#1f2427" stroke-width="0.7"/>
<circle cx="104.40" cy="595.80" r="2.25" fill="#3e474e" stroke="#1f2427" stroke-width="0.7"/>
<circle cx="119.00" cy="607.70" r="2.25" fill="#a3132c" stroke="#6a0819" stroke-width="0.7"/>
<circle cx="119.00" cy="611.20" r="2.25" fill="#a3132c" stroke="#6a0819" stroke-width="0.7"/>
<circle cx="119.00" cy="614.30" r="2.25" fill="#a3132c" stroke="#6a0819" stroke-width="0.7"/>
<circle cx="120.30" cy="616.70" r="2.25" fill="#a3132c" stroke="#6a0819" stroke-width="0.7"/>
<circle cx="117.70" cy="617.80" r="2.25" fill="#a3132c" stroke="#6a0819" stroke-width="0.7"/>
<circle cx="132.80" cy="548.60" r="2.25" fill="#3e474e" stroke="#1f2427" stroke-width="0.7"/>
<circle cx="132.80" cy="557.70" r="2.25" fill="#3e474e" stroke="#1f2427" stroke-width="0.7"/>
<circle cx="134.10" cy="560.10" r="2.25" fill="#3e474e" stroke="#1f2427" stroke-width="0.7"/>
<circle cx="132.80" cy="568.00" r="2.25" fill="#3e474e" stroke="#1f2427" stroke-width="0.7"/>
<circle cx="135.20" cy="569.50" r="2.25" fill="#3e474e" stroke="#1f2427" stroke-width="0.7"/>
<circle cx="132.80" cy="579.70" r="2.25" fill="#3e474e" stroke="#1f2427" stroke-width="0.7"/>
<circle cx="134.10" cy="582.10" r="2.25" fill="#3e474e" stroke="#1f2427" stroke-width="0.7"/>
<circle cx="132.80" cy="589.20" r="2.25" fill="#3e474e" stroke="#1f2427" stroke-width="0.7"/>
<circle cx="132.80" cy="592.30" r="2.25" fill="#3e474e" stroke="#1f2427" stroke-width="0.7"/>
<circle cx="135.20" cy="593.90" r="2.25" fill="#3e474e" stroke="#1f2427" stroke-width="0.7"/>
<circle cx="132.80" cy="597.80" r="2.25" fill="#3e474e" stroke="#1f2427" stroke-width="0.7"/>
<circle cx="147.20" cy="553.80" r="2.25" fill="#a3132c" stroke="#6a0819" stroke-width="0.7"/>
<circle cx="147.20" cy="562.10" r="2.25" fill="#a3132c" stroke="#6a0819" stroke-width="0.7"/>
<circle cx="147.20" cy="565.60" r="2.25" fill="#a3132c" stroke="#6a0819" stroke-width="0.7"/>
<circle cx="147.20" cy="578.50" r="2.25" fill="#a3132c" stroke="#6a0819" stroke-width="0.7"/>
<circle cx="149.60" cy="580.50" r="2.25" fill="#a3132c" stroke="#6a0819" stroke-width="0.7"/>
<circle cx="147.20" cy="583.70" r="2.25" fill="#a3132c" stroke="#6a0819" stroke-width="0.7"/>
<circle cx="147.20" cy="589.20" r="2.25" fill="#a3132c" stroke="#6a0819" stroke-width="0.7"/>
<circle cx="147.20" cy="597.00" r="2.25" fill="#a3132c" stroke="#6a0819" stroke-width="0.7"/>
<circle cx="147.20" cy="601.80" r="2.25" fill="#a3132c" stroke="#6a0819" stroke-width="0.7"/>
<circle cx="147.20" cy="605.70" r="2.25" fill="#a3132c" stroke="#6a0819" stroke-width="0.7"/>
<line x1="211.00" y1="529.80" x2="211.00" y2="622.90" stroke="#3a3a3a" stroke-width="1.1" />
<line x1="208.40" y1="622.40" x2="327.80" y2="622.40" stroke="#3a3a3a" stroke-width="1.1" />
<line x1="208.40" y1="622.30" x2="211.00" y2="622.30" stroke="#3a3a3a" stroke-width="1.0" />
<text x="205.40" y="625.20" font-size="8" text-anchor="end" font-weight="normal" fill="#222" style="stroke:#222" >0</text>
<line x1="208.40" y1="604.00" x2="211.00" y2="604.00" stroke="#3a3a3a" stroke-width="1.0" />
<text x="205.40" y="606.90" font-size="8" text-anchor="end" font-weight="normal" fill="#222" style="stroke:#222" >5</text>
<line x1="208.40" y1="585.70" x2="211.00" y2="585.70" stroke="#3a3a3a" stroke-width="1.0" />
<text x="205.40" y="588.60" font-size="8" text-anchor="end" font-weight="normal" fill="#222" style="stroke:#222" >10</text>
<line x1="208.40" y1="567.40" x2="211.00" y2="567.40" stroke="#3a3a3a" stroke-width="1.0" />
<text x="205.40" y="570.30" font-size="8" text-anchor="end" font-weight="normal" fill="#222" style="stroke:#222" >15</text>
<line x1="208.40" y1="549.00" x2="211.00" y2="549.00" stroke="#3a3a3a" stroke-width="1.0" />
<text x="205.40" y="551.90" font-size="8" text-anchor="end" font-weight="normal" fill="#222" style="stroke:#222" >20</text>
<line x1="208.40" y1="530.60" x2="211.00" y2="530.60" stroke="#3a3a3a" stroke-width="1.0" />
<text x="205.40" y="533.50" font-size="8" text-anchor="end" font-weight="normal" fill="#222" style="stroke:#222" >25</text>
<line x1="219.60" y1="622.40" x2="219.60" y2="625.40" stroke="#3a3a3a" stroke-width="0.9" />
<line x1="233.60" y1="622.40" x2="233.60" y2="625.40" stroke="#3a3a3a" stroke-width="0.9" />
<line x1="247.40" y1="622.40" x2="247.40" y2="625.40" stroke="#3a3a3a" stroke-width="0.9" />
<line x1="261.80" y1="622.40" x2="261.80" y2="625.40" stroke="#3a3a3a" stroke-width="0.9" />
<line x1="275.80" y1="622.40" x2="275.80" y2="625.40" stroke="#3a3a3a" stroke-width="0.9" />
<line x1="289.60" y1="622.40" x2="289.60" y2="625.40" stroke="#3a3a3a" stroke-width="0.9" />
<line x1="303.30" y1="622.40" x2="303.30" y2="625.40" stroke="#3a3a3a" stroke-width="0.9" />
<line x1="317.20" y1="622.40" x2="317.20" y2="625.40" stroke="#3a3a3a" stroke-width="0.9" />
<text x="269.50" y="517.00" font-size="9.4" text-anchor="middle" font-weight="normal" fill="#222" style="stroke:#222" >CD41<tspan font-size="5.5" dy="-3.5">+</tspan><tspan dy="3.5"> cells</tspan></text>
<text transform="translate(190.40,576.00) rotate(-90)" font-size="7.5" text-anchor="middle" fill="#222">(%)</text>
<line x1="218.90" y1="537.60" x2="236.10" y2="537.60" stroke="#4a4a4a" stroke-width="1.2" />
<text x="227.80" y="534.70" font-size="6.8" text-anchor="middle" font-weight="normal" fill="#333" style="stroke:#333" >n.s.</text>
<line x1="247.30" y1="537.60" x2="264.50" y2="537.60" stroke="#4a4a4a" stroke-width="1.2" />
<text x="256.20" y="534.70" font-size="6.8" text-anchor="middle" font-weight="normal" fill="#333" style="stroke:#333" >n.s.</text>
<line x1="274.50" y1="537.60" x2="291.70" y2="537.60" stroke="#4a4a4a" stroke-width="1.2" />
<circle cx="283.10" cy="533.40" r="1.05" fill="#2a2a2a"/>
<line x1="303.70" y1="537.60" x2="320.90" y2="537.60" stroke="#4a4a4a" stroke-width="1.2" />
<text x="312.60" y="534.70" font-size="6.8" text-anchor="middle" font-weight="normal" fill="#333" style="stroke:#333" >n.s.</text>
<text x="219.60" y="635.80" font-size="7.5" text-anchor="middle" font-weight="normal" fill="#222" style="stroke:#222" >–</text>
<text x="233.60" y="635.80" font-size="7.5" text-anchor="middle" font-weight="normal" fill="#222" style="stroke:#222" >+</text>
<text x="247.40" y="635.80" font-size="7.5" text-anchor="middle" font-weight="normal" fill="#222" style="stroke:#222" >–</text>
<text x="261.80" y="635.80" font-size="7.5" text-anchor="middle" font-weight="normal" fill="#222" style="stroke:#222" >+</text>
<text x="275.80" y="635.80" font-size="7.5" text-anchor="middle" font-weight="normal" fill="#222" style="stroke:#222" >–</text>
<text x="289.60" y="635.80" font-size="7.5" text-anchor="middle" font-weight="normal" fill="#222" style="stroke:#222" >+</text>
<text x="303.30" y="635.80" font-size="7.5" text-anchor="middle" font-weight="normal" fill="#222" style="stroke:#222" >–</text>
<text x="317.20" y="635.80" font-size="7.5" text-anchor="middle" font-weight="normal" fill="#222" style="stroke:#222" >+</text>
<text x="210.20" y="638.60" font-size="7.5" text-anchor="end" font-weight="normal" fill="#222" style="stroke:#222" >ropeg-</text>
<text x="209.40" y="647.20" font-size="7.5" text-anchor="end" font-weight="normal" fill="#222" style="stroke:#222" >IFN-α</text>
<line x1="215.30" y1="640.00" x2="236.90" y2="640.00" stroke="#333" stroke-width="0.9" />
<line x1="243.10" y1="640.00" x2="265.10" y2="640.00" stroke="#333" stroke-width="0.9" />
<line x1="271.50" y1="640.00" x2="292.90" y2="640.00" stroke="#333" stroke-width="0.9" />
<line x1="299.00" y1="640.00" x2="320.50" y2="640.00" stroke="#333" stroke-width="0.9" />
<text x="226.10" y="649.80" font-size="7.5" text-anchor="middle" font-weight="normal" fill="#222" style="stroke:#222" >WT</text>
<text x="243.10" y="649.80" font-size="7.5" fill="#222" font-style="italic">Tyk2<tspan font-size="4.6" dy="-3">−/−</tspan></text>
<text x="271.50" y="649.80" font-size="7.5" fill="#222" font-style="italic">Jak2</text>
<text x="271.50" y="659.00" font-size="7.5" fill="#222">V617F</text>
<text x="299.00" y="649.80" font-size="7.5" fill="#222"><tspan font-style="italic">Jak2</tspan>V617F;</text>
<text x="299.00" y="659.00" font-size="7.5" fill="#222" font-style="italic">Tyk2<tspan font-size="4.6" dy="-3">−/−</tspan></text>
<line x1="275.80" y1="567.00" x2="275.80" y2="604.00" stroke="#8f8f8f" stroke-width="0.9" />
<line x1="274.00" y1="567.00" x2="277.60" y2="567.00" stroke="#333" stroke-width="0.9" />
<line x1="274.00" y1="604.00" x2="277.60" y2="604.00" stroke="#333" stroke-width="0.9" />
<line x1="273.50" y1="586.00" x2="278.10" y2="586.00" stroke="#333" stroke-width="0.9" />
<line x1="289.60" y1="600.00" x2="289.60" y2="611.00" stroke="#8f8f8f" stroke-width="0.9" />
<line x1="287.80" y1="600.00" x2="291.40" y2="600.00" stroke="#333" stroke-width="0.9" />
<line x1="287.80" y1="611.00" x2="291.40" y2="611.00" stroke="#333" stroke-width="0.9" />
<line x1="287.30" y1="605.20" x2="291.90" y2="605.20" stroke="#333" stroke-width="0.9" />
<line x1="303.30" y1="562.00" x2="303.30" y2="592.00" stroke="#8f8f8f" stroke-width="0.9" />
<line x1="301.50" y1="562.00" x2="305.10" y2="562.00" stroke="#333" stroke-width="0.9" />
<line x1="301.50" y1="592.00" x2="305.10" y2="592.00" stroke="#333" stroke-width="0.9" />
<line x1="301.00" y1="577.00" x2="305.60" y2="577.00" stroke="#333" stroke-width="0.9" />
<line x1="317.20" y1="566.00" x2="317.20" y2="598.00" stroke="#8f8f8f" stroke-width="0.9" />
<line x1="315.40" y1="566.00" x2="319.00" y2="566.00" stroke="#333" stroke-width="0.9" />
<line x1="315.40" y1="598.00" x2="319.00" y2="598.00" stroke="#333" stroke-width="0.9" />
<line x1="314.90" y1="582.00" x2="319.50" y2="582.00" stroke="#333" stroke-width="0.9" />
<line x1="219.60" y1="606.00" x2="219.60" y2="616.00" stroke="#8f8f8f" stroke-width="0.9" />
<line x1="217.80" y1="606.00" x2="221.40" y2="606.00" stroke="#333" stroke-width="0.9" />
<line x1="217.80" y1="616.00" x2="221.40" y2="616.00" stroke="#333" stroke-width="0.9" />
<line x1="217.30" y1="611.00" x2="221.90" y2="611.00" stroke="#333" stroke-width="0.9" />
<line x1="247.40" y1="604.00" x2="247.40" y2="616.00" stroke="#8f8f8f" stroke-width="0.9" />
<line x1="245.60" y1="604.00" x2="249.20" y2="604.00" stroke="#333" stroke-width="0.9" />
<line x1="245.60" y1="616.00" x2="249.20" y2="616.00" stroke="#333" stroke-width="0.9" />
<line x1="245.10" y1="610.00" x2="249.70" y2="610.00" stroke="#333" stroke-width="0.9" />
<circle cx="219.60" cy="605.20" r="2.25" fill="#3e474e" stroke="#1f2427" stroke-width="0.7"/>
<circle cx="219.60" cy="608.80" r="2.25" fill="#3e474e" stroke="#1f2427" stroke-width="0.7"/>
<circle cx="222.00" cy="611.00" r="2.25" fill="#3e474e" stroke="#1f2427" stroke-width="0.7"/>
<circle cx="219.60" cy="612.80" r="2.25" fill="#3e474e" stroke="#1f2427" stroke-width="0.7"/>
<circle cx="219.60" cy="616.00" r="2.25" fill="#3e474e" stroke="#1f2427" stroke-width="0.7"/>
<circle cx="233.60" cy="598.00" r="2.25" fill="#a3132c" stroke="#6a0819" stroke-width="0.7"/>
<circle cx="233.60" cy="604.70" r="2.25" fill="#a3132c" stroke="#6a0819" stroke-width="0.7"/>
<circle cx="233.60" cy="608.30" r="2.25" fill="#a3132c" stroke="#6a0819" stroke-width="0.7"/>
<circle cx="236.00" cy="610.10" r="2.25" fill="#a3132c" stroke="#6a0819" stroke-width="0.7"/>
<circle cx="232.30" cy="611.00" r="2.25" fill="#a3132c" stroke="#6a0819" stroke-width="0.7"/>
<circle cx="247.40" cy="603.40" r="2.25" fill="#3e474e" stroke="#1f2427" stroke-width="0.7"/>
<circle cx="249.80" cy="605.60" r="2.25" fill="#3e474e" stroke="#1f2427" stroke-width="0.7"/>
<circle cx="247.40" cy="608.30" r="2.25" fill="#3e474e" stroke="#1f2427" stroke-width="0.7"/>
<circle cx="247.40" cy="612.80" r="2.25" fill="#3e474e" stroke="#1f2427" stroke-width="0.7"/>
<circle cx="247.40" cy="619.10" r="2.25" fill="#3e474e" stroke="#1f2427" stroke-width="0.7"/>
<circle cx="261.80" cy="604.20" r="2.25" fill="#a3132c" stroke="#6a0819" stroke-width="0.7"/>
<circle cx="261.80" cy="605.20" r="2.25" fill="#a3132c" stroke="#6a0819" stroke-width="0.7"/>
<circle cx="261.80" cy="609.20" r="2.25" fill="#a3132c" stroke="#6a0819" stroke-width="0.7"/>
<circle cx="261.80" cy="612.40" r="2.25" fill="#a3132c" stroke="#6a0819" stroke-width="0.7"/>
<circle cx="275.80" cy="544.90" r="2.25" fill="#3e474e" stroke="#1f2427" stroke-width="0.7"/>
<circle cx="275.80" cy="567.00" r="2.25" fill="#3e474e" stroke="#1f2427" stroke-width="0.7"/>
<circle cx="275.80" cy="576.00" r="2.25" fill="#3e474e" stroke="#1f2427" stroke-width="0.7"/>
<circle cx="275.80" cy="584.90" r="2.25" fill="#3e474e" stroke="#1f2427" stroke-width="0.7"/>
<circle cx="275.80" cy="592.10" r="2.25" fill="#3e474e" stroke="#1f2427" stroke-width="0.7"/>
<circle cx="275.80" cy="597.50" r="2.25" fill="#3e474e" stroke="#1f2427" stroke-width="0.7"/>
<circle cx="275.80" cy="600.20" r="2.25" fill="#3e474e" stroke="#1f2427" stroke-width="0.7"/>
<circle cx="275.80" cy="602.90" r="2.25" fill="#3e474e" stroke="#1f2427" stroke-width="0.7"/>
<circle cx="289.60" cy="599.30" r="2.25" fill="#a3132c" stroke="#6a0819" stroke-width="0.7"/>
<circle cx="289.60" cy="602.00" r="2.25" fill="#a3132c" stroke="#6a0819" stroke-width="0.7"/>
<circle cx="289.60" cy="609.20" r="2.25" fill="#a3132c" stroke="#6a0819" stroke-width="0.7"/>
<circle cx="292.00" cy="611.30" r="2.25" fill="#a3132c" stroke="#6a0819" stroke-width="0.7"/>
<circle cx="289.60" cy="613.70" r="2.25" fill="#a3132c" stroke="#6a0819" stroke-width="0.7"/>
<circle cx="303.30" cy="558.00" r="2.25" fill="#3e474e" stroke="#1f2427" stroke-width="0.7"/>
<circle cx="303.30" cy="561.60" r="2.25" fill="#3e474e" stroke="#1f2427" stroke-width="0.7"/>
<circle cx="303.30" cy="567.90" r="2.25" fill="#3e474e" stroke="#1f2427" stroke-width="0.7"/>
<circle cx="303.30" cy="570.60" r="2.25" fill="#3e474e" stroke="#1f2427" stroke-width="0.7"/>
<circle cx="303.30" cy="576.50" r="2.25" fill="#3e474e" stroke="#1f2427" stroke-width="0.7"/>
<circle cx="305.70" cy="578.60" r="2.25" fill="#3e474e" stroke="#1f2427" stroke-width="0.7"/>
<circle cx="303.30" cy="581.30" r="2.25" fill="#3e474e" stroke="#1f2427" stroke-width="0.7"/>
<circle cx="303.30" cy="589.10" r="2.25" fill="#3e474e" stroke="#1f2427" stroke-width="0.7"/>
<circle cx="303.30" cy="596.60" r="2.25" fill="#3e474e" stroke="#1f2427" stroke-width="0.7"/>
<circle cx="317.20" cy="558.50" r="2.25" fill="#a3132c" stroke="#6a0819" stroke-width="0.7"/>
<circle cx="317.20" cy="567.90" r="2.25" fill="#a3132c" stroke="#6a0819" stroke-width="0.7"/>
<circle cx="317.20" cy="571.50" r="2.25" fill="#a3132c" stroke="#6a0819" stroke-width="0.7"/>
<circle cx="317.20" cy="576.90" r="2.25" fill="#a3132c" stroke="#6a0819" stroke-width="0.7"/>
<circle cx="319.60" cy="578.60" r="2.25" fill="#a3132c" stroke="#6a0819" stroke-width="0.7"/>
<circle cx="317.20" cy="584.00" r="2.25" fill="#a3132c" stroke="#6a0819" stroke-width="0.7"/>
<circle cx="317.20" cy="591.20" r="2.25" fill="#a3132c" stroke="#6a0819" stroke-width="0.7"/>
<circle cx="317.20" cy="597.50" r="2.25" fill="#a3132c" stroke="#6a0819" stroke-width="0.7"/>
<circle cx="319.60" cy="599.30" r="2.25" fill="#a3132c" stroke="#6a0819" stroke-width="0.7"/>
<circle cx="317.20" cy="607.00" r="2.25" fill="#a3132c" stroke="#6a0819" stroke-width="0.7"/>
<line x1="77.10" y1="291.30" x2="124.50" y2="228.50" stroke="#c4c4c4" stroke-width="0.8" />
<line x1="77.10" y1="293.30" x2="124.50" y2="273.10" stroke="#c4c4c4" stroke-width="0.8" />
<line x1="77.10" y1="296.70" x2="124.50" y2="279.50" stroke="#c4c4c4" stroke-width="0.8" />
<line x1="140.30" y1="228.50" x2="188.00" y2="291.10" stroke="#c4c4c4" stroke-width="0.8" />
<line x1="140.30" y1="273.10" x2="188.00" y2="295.90" stroke="#c4c4c4" stroke-width="0.8" />
<line x1="140.30" y1="279.50" x2="188.00" y2="296.80" stroke="#c4c4c4" stroke-width="0.8" />
<line x1="203.60" y1="291.10" x2="251.20" y2="219.30" stroke="#c4c4c4" stroke-width="0.8" />
<line x1="203.60" y1="295.90" x2="251.20" y2="265.80" stroke="#c4c4c4" stroke-width="0.8" />
<line x1="203.60" y1="296.80" x2="251.20" y2="276.00" stroke="#c4c4c4" stroke-width="0.8" />
<line x1="266.70" y1="219.30" x2="314.00" y2="208.70" stroke="#c4c4c4" stroke-width="0.8" />
<line x1="266.70" y1="265.80" x2="314.00" y2="263.10" stroke="#c4c4c4" stroke-width="0.8" />
<line x1="266.70" y1="276.00" x2="314.00" y2="274.60" stroke="#c4c4c4" stroke-width="0.8" />
<rect x="61.00" y="291.30" width="16.10" height="2.00" fill="#f39019"/>
<rect x="61.00" y="293.30" width="16.10" height="3.40" fill="#45b035"/>
<rect x="61.00" y="296.70" width="16.10" height="1.60" fill="#1c4b86"/>
<rect x="124.50" y="228.50" width="15.80" height="44.60" fill="#f39019"/>
<rect x="124.50" y="273.10" width="15.80" height="6.40" fill="#45b035"/>
<rect x="124.50" y="279.50" width="15.80" height="18.80" fill="#1c4b86"/>
<rect x="188.00" y="291.10" width="15.60" height="4.80" fill="#f39019"/>
<rect x="188.00" y="295.90" width="15.60" height="0.90" fill="#45b035"/>
<rect x="188.00" y="296.80" width="15.60" height="1.50" fill="#1c4b86"/>
<rect x="251.20" y="219.30" width="15.50" height="46.50" fill="#f39019"/>
<rect x="251.20" y="265.80" width="15.50" height="10.20" fill="#45b035"/>
<rect x="251.20" y="276.00" width="15.50" height="22.30" fill="#1c4b86"/>
<rect x="314.00" y="208.70" width="16.20" height="54.40" fill="#f39019"/>
<rect x="314.00" y="263.10" width="16.20" height="11.50" fill="#45b035"/>
<rect x="314.00" y="274.60" width="16.20" height="23.70" fill="#1c4b86"/>
<line x1="39.60" y1="188.50" x2="39.60" y2="298.80" stroke="#3a3a3a" stroke-width="1.1" />
<line x1="37.00" y1="298.30" x2="346.70" y2="298.30" stroke="#3a3a3a" stroke-width="1.2" />
<line x1="37.00" y1="298.30" x2="39.60" y2="298.30" stroke="#3a3a3a" stroke-width="1.0" />
<text x="34.00" y="301.20" font-size="8" text-anchor="end" font-weight="normal" fill="#222" style="stroke:#222" >0</text>
<line x1="37.00" y1="269.10" x2="39.60" y2="269.10" stroke="#3a3a3a" stroke-width="1.0" />
<text x="34.00" y="272.00" font-size="8" text-anchor="end" font-weight="normal" fill="#222" style="stroke:#222" >30</text>
<line x1="37.00" y1="240.00" x2="39.60" y2="240.00" stroke="#3a3a3a" stroke-width="1.0" />
<text x="34.00" y="242.90" font-size="8" text-anchor="end" font-weight="normal" fill="#222" style="stroke:#222" >60</text>
<line x1="37.00" y1="210.80" x2="39.60" y2="210.80" stroke="#3a3a3a" stroke-width="1.0" />
<text x="34.00" y="213.70" font-size="8" text-anchor="end" font-weight="normal" fill="#222" style="stroke:#222" >90</text>
<text transform="translate(18.2,242.4) rotate(-90)" font-size="7.5" text-anchor="middle" fill="#222">(× 10<tspan font-size="5" dy="-3">9</tspan><tspan dy="3">/L)</tspan></text>
<line x1="69.05" y1="298.30" x2="69.05" y2="301.30" stroke="#3a3a3a" stroke-width="0.9" />
<line x1="132.40" y1="298.30" x2="132.40" y2="301.30" stroke="#3a3a3a" stroke-width="0.9" />
<line x1="195.80" y1="298.30" x2="195.80" y2="301.30" stroke="#3a3a3a" stroke-width="0.9" />
<line x1="258.95" y1="298.30" x2="258.95" y2="301.30" stroke="#3a3a3a" stroke-width="0.9" />
<line x1="322.10" y1="298.30" x2="322.10" y2="301.30" stroke="#3a3a3a" stroke-width="0.9" />
<text x="69.05" y="312.00" font-size="7.5" text-anchor="middle" font-weight="normal" fill="#222" style="stroke:#222" >PBS</text>
<text x="132.40" y="312.00" font-size="7.5" text-anchor="middle" font-weight="normal" fill="#222" style="stroke:#222" >PBS</text>
<text x="195.80" y="312.00" font-size="7.5" text-anchor="middle" font-weight="normal" fill="#222" style="stroke:#222" >ropeg-</text>
<text x="195.80" y="320.90" font-size="7.5" text-anchor="middle" font-weight="normal" fill="#222" style="stroke:#222" >IFN-α</text>
<text x="258.95" y="312.00" font-size="7.5" text-anchor="middle" font-weight="normal" fill="#222" style="stroke:#222" >PBS</text>
<text x="322.10" y="312.00" font-size="7.5" text-anchor="middle" font-weight="normal" fill="#222" style="stroke:#222" >ropeg-</text>
<text x="322.10" y="320.90" font-size="7.5" text-anchor="middle" font-weight="normal" fill="#222" style="stroke:#222" >IFN-α</text>
<line x1="54.60" y1="325.80" x2="89.00" y2="325.80" stroke="#333" stroke-width="0.9" />
<line x1="125.70" y1="325.80" x2="218.50" y2="325.80" stroke="#333" stroke-width="0.9" />
<line x1="246.60" y1="325.80" x2="339.70" y2="325.80" stroke="#333" stroke-width="0.9" />
<text x="70.80" y="335.10" font-size="7.5" text-anchor="middle" font-weight="normal" fill="#222" style="stroke:#222" >WT</text>
<text x="171.2" y="335.1" font-size="7.5" text-anchor="middle" fill="#222"><tspan font-style="italic">Jak2</tspan>V617F</text>
<text x="292.4" y="335.1" font-size="7.5" text-anchor="middle" fill="#222"><tspan font-style="italic">Jak2</tspan>V617F; <tspan font-style="italic">Tyk2</tspan><tspan font-size="4.6" dy="-3">−/−</tspan></text>
<text x="132.70" y="253.70" font-size="8.0" text-anchor="middle" font-weight="normal" fill="#fbf3ea" style="stroke:#fbf3ea;stroke-width:0" >27<tspan font-size="9.6">×</tspan></text>
<text x="132.70" y="279.30" font-size="7.6" text-anchor="middle" font-weight="normal" fill="#fbf3ea" style="stroke:#fbf3ea;stroke-width:0" >1.8<tspan font-size="9.1">×</tspan></text>
<text x="132.70" y="291.90" font-size="8.0" text-anchor="middle" font-weight="normal" fill="#fbf3ea" style="stroke:#fbf3ea;stroke-width:0" >10<tspan font-size="9.6">×</tspan></text>
<text x="259.30" y="245.10" font-size="8.0" text-anchor="middle" font-weight="normal" fill="#fbf3ea" style="stroke:#fbf3ea;stroke-width:0" >28<tspan font-size="9.6">×</tspan></text>
<text x="259.30" y="274.20" font-size="7.6" text-anchor="middle" font-weight="normal" fill="#fbf3ea" style="stroke:#fbf3ea;stroke-width:0" >2.8<tspan font-size="9.1">×</tspan></text>
<text x="259.30" y="290.90" font-size="8.0" text-anchor="middle" font-weight="normal" fill="#fbf3ea" style="stroke:#fbf3ea;stroke-width:0" >12<tspan font-size="9.6">×</tspan></text>
<text x="322.40" y="238.40" font-size="8.0" text-anchor="middle" font-weight="normal" fill="#fbf3ea" style="stroke:#fbf3ea;stroke-width:0" >33<tspan font-size="9.6">×</tspan></text>
<text x="322.40" y="271.90" font-size="7.6" text-anchor="middle" font-weight="normal" fill="#fbf3ea" style="stroke:#fbf3ea;stroke-width:0" >3.2<tspan font-size="9.1">×</tspan></text>
<text x="322.40" y="289.70" font-size="8.0" text-anchor="middle" font-weight="normal" fill="#fbf3ea" style="stroke:#fbf3ea;stroke-width:0" >13<tspan font-size="9.6">×</tspan></text>
<text x="194.20" y="284.40" font-size="8" text-anchor="middle" font-weight="normal" fill="#222" style="stroke:#222" >2.7<tspan font-size="9.8">×</tspan></text>
<text x="212.80" y="267.20" font-size="8" text-anchor="middle" font-weight="normal" fill="#222" style="stroke:#222" >0.2<tspan font-size="9.8">×</tspan></text>
<text x="221.20" y="281.70" font-size="8" text-anchor="middle" font-weight="normal" fill="#222" style="stroke:#222" >0.9<tspan font-size="9.8">×</tspan></text>
<line x1="195.30" y1="287.10" x2="194.60" y2="293.40" stroke="#111" stroke-width="1.0" />
<line x1="211.00" y1="269.60" x2="197.60" y2="297.60" stroke="#111" stroke-width="1.0" />
<line x1="213.70" y1="284.30" x2="203.00" y2="297.60" stroke="#111" stroke-width="1.0" />
<rect x="352.80" y="189.00" width="6.00" height="6.00" fill="#f39019"/>
<text x="361.8" y="194.60" font-size="7.5" fill="#333">Mac1<tspan font-size="4.6" dy="-3">+</tspan><tspan dy="3">Gr1</tspan><tspan font-size="4.6" dy="-3">+</tspan><tspan dy="3"> cells</tspan></text>
<rect x="352.80" y="200.20" width="6.00" height="6.00" fill="#45b035"/>
<text x="361.8" y="205.80" font-size="7.5" fill="#333">B220<tspan font-size="4.6" dy="-3">+</tspan><tspan dy="3"> cells</tspan></text>
<rect x="352.80" y="211.50" width="6.00" height="6.00" fill="#1c4b86"/>
<text x="361.8" y="217.10" font-size="7.5" fill="#333">CD3<tspan font-size="4.6" dy="-3">+</tspan><tspan dy="3"> cells</tspan></text>
<line x1="396.10" y1="537.00" x2="396.10" y2="550.40" stroke="#666" stroke-width="1.1" />
<line x1="394.00" y1="537.00" x2="398.20" y2="537.00" stroke="#333" stroke-width="1.0" />
<rect x="393.40" y="550.40" width="5.40" height="72.20" fill="#4a5565"/>
<line x1="393.40" y1="550.80" x2="398.80" y2="550.80" stroke="#2a2a2a" stroke-width="0.8" />
<line x1="409.20" y1="601.30" x2="409.20" y2="609.70" stroke="#333" stroke-width="1.1" />
<line x1="407.10" y1="601.30" x2="411.30" y2="601.30" stroke="#333" stroke-width="1.0" />
<rect x="406.50" y="609.70" width="5.40" height="12.90" fill="#cf112e"/>
<line x1="406.50" y1="610.10" x2="411.90" y2="610.10" stroke="#2a2a2a" stroke-width="0.8" />
<line x1="422.40" y1="556.30" x2="422.40" y2="575.00" stroke="#666" stroke-width="1.1" />
<line x1="420.30" y1="556.30" x2="424.50" y2="556.30" stroke="#333" stroke-width="1.0" />
<rect x="419.70" y="575.00" width="5.40" height="47.60" fill="#4a5565"/>
<line x1="419.70" y1="575.40" x2="425.10" y2="575.40" stroke="#2a2a2a" stroke-width="0.8" />
<line x1="435.60" y1="541.40" x2="435.60" y2="562.00" stroke="#333" stroke-width="1.1" />
<line x1="433.50" y1="541.40" x2="437.70" y2="541.40" stroke="#333" stroke-width="1.0" />
<rect x="432.90" y="562.00" width="5.40" height="60.60" fill="#cf112e"/>
<line x1="432.90" y1="562.40" x2="438.30" y2="562.40" stroke="#2a2a2a" stroke-width="0.8" />
<line x1="448.70" y1="612.40" x2="448.70" y2="616.30" stroke="#666" stroke-width="1.1" />
<line x1="446.60" y1="612.40" x2="450.80" y2="612.40" stroke="#333" stroke-width="1.0" />
<rect x="446.00" y="616.30" width="5.40" height="6.30" fill="#4a5565"/>
<line x1="446.00" y1="616.70" x2="451.40" y2="616.70" stroke="#2a2a2a" stroke-width="0.8" />
<line x1="461.90" y1="620.00" x2="461.90" y2="620.80" stroke="#333" stroke-width="1.1" />
<line x1="459.80" y1="620.00" x2="464.00" y2="620.00" stroke="#333" stroke-width="1.0" />
<rect x="459.20" y="620.80" width="5.40" height="1.80" fill="#cf112e"/>
<line x1="459.20" y1="621.20" x2="464.60" y2="621.20" stroke="#2a2a2a" stroke-width="0.8" />
<line x1="475.30" y1="596.20" x2="475.30" y2="608.40" stroke="#666" stroke-width="1.1" />
<line x1="473.20" y1="596.20" x2="477.40" y2="596.20" stroke="#333" stroke-width="1.0" />
<rect x="472.60" y="608.40" width="5.40" height="14.20" fill="#4a5565"/>
<line x1="472.60" y1="608.80" x2="478.00" y2="608.80" stroke="#2a2a2a" stroke-width="0.8" />
<line x1="488.70" y1="602.20" x2="488.70" y2="610.00" stroke="#333" stroke-width="1.1" />
<line x1="486.60" y1="602.20" x2="490.80" y2="602.20" stroke="#333" stroke-width="1.0" />
<rect x="486.00" y="610.00" width="5.40" height="12.60" fill="#cf112e"/>
<line x1="486.00" y1="610.40" x2="491.40" y2="610.40" stroke="#2a2a2a" stroke-width="0.8" />
<line x1="387.40" y1="528.90" x2="387.40" y2="623.10" stroke="#3a3a3a" stroke-width="1.1" />
<line x1="384.80" y1="622.60" x2="499.80" y2="622.60" stroke="#3a3a3a" stroke-width="1.1" />
<line x1="384.80" y1="622.60" x2="387.40" y2="622.60" stroke="#3a3a3a" stroke-width="1.0" />
<text x="381.80" y="625.50" font-size="8" text-anchor="end" font-weight="normal" fill="#222" style="stroke:#222" >0</text>
<line x1="384.80" y1="600.00" x2="387.40" y2="600.00" stroke="#3a3a3a" stroke-width="1.0" />
<text x="381.80" y="602.90" font-size="8" text-anchor="end" font-weight="normal" fill="#222" style="stroke:#222" >5</text>
<line x1="384.80" y1="577.70" x2="387.40" y2="577.70" stroke="#3a3a3a" stroke-width="1.0" />
<text x="381.80" y="580.60" font-size="8" text-anchor="end" font-weight="normal" fill="#222" style="stroke:#222" >10</text>
<line x1="384.80" y1="555.40" x2="387.40" y2="555.40" stroke="#3a3a3a" stroke-width="1.0" />
<text x="381.80" y="558.30" font-size="8" text-anchor="end" font-weight="normal" fill="#222" style="stroke:#222" >15</text>
<line x1="384.80" y1="533.20" x2="387.40" y2="533.20" stroke="#3a3a3a" stroke-width="1.0" />
<text x="381.80" y="536.10" font-size="8" text-anchor="end" font-weight="normal" fill="#222" style="stroke:#222" >20</text>
<line x1="396.10" y1="622.60" x2="396.10" y2="625.60" stroke="#3a3a3a" stroke-width="0.9" />
<line x1="409.20" y1="622.60" x2="409.20" y2="625.60" stroke="#3a3a3a" stroke-width="0.9" />
<line x1="422.40" y1="622.60" x2="422.40" y2="625.60" stroke="#3a3a3a" stroke-width="0.9" />
<line x1="435.60" y1="622.60" x2="435.60" y2="625.60" stroke="#3a3a3a" stroke-width="0.9" />
<line x1="448.70" y1="622.60" x2="448.70" y2="625.60" stroke="#3a3a3a" stroke-width="0.9" />
<line x1="461.90" y1="622.60" x2="461.90" y2="625.60" stroke="#3a3a3a" stroke-width="0.9" />
<line x1="475.30" y1="622.60" x2="475.30" y2="625.60" stroke="#3a3a3a" stroke-width="0.9" />
<line x1="488.70" y1="622.60" x2="488.70" y2="625.60" stroke="#3a3a3a" stroke-width="0.9" />
<text x="443.60" y="516.60" font-size="8.8" text-anchor="middle" font-weight="normal" fill="#222" style="stroke:#222" >Number of LT-HSC</text>
<text transform="translate(366.50,575.90) rotate(-90)" font-size="7.0" text-anchor="middle" fill="#222">(× 10<tspan font-size="5" dy="-3">3</tspan><tspan dy="3">/3 limbs)</tspan></text>
<line x1="393.40" y1="531.50" x2="410.60" y2="531.50" stroke="#4a4a4a" stroke-width="1.2" />
<circle cx="400.50" cy="527.30" r="1.05" fill="#2a2a2a"/>
<circle cx="403.50" cy="527.30" r="1.05" fill="#2a2a2a"/>
<line x1="419.20" y1="531.50" x2="436.40" y2="531.50" stroke="#4a4a4a" stroke-width="1.2" />
<text x="428.10" y="528.60" font-size="6.8" text-anchor="middle" font-weight="normal" fill="#333" style="stroke:#333" >n.s.</text>
<line x1="444.40" y1="531.50" x2="461.60" y2="531.50" stroke="#4a4a4a" stroke-width="1.2" />
<circle cx="450.00" cy="527.30" r="1.05" fill="#2a2a2a"/>
<circle cx="453.00" cy="527.30" r="1.05" fill="#2a2a2a"/>
<circle cx="456.00" cy="527.30" r="1.05" fill="#2a2a2a"/>
<line x1="469.30" y1="531.50" x2="486.50" y2="531.50" stroke="#4a4a4a" stroke-width="1.2" />
<text x="478.20" y="528.60" font-size="6.8" text-anchor="middle" font-weight="normal" fill="#333" style="stroke:#333" >n.s.</text>
<text x="396.10" y="636.00" font-size="7.5" text-anchor="middle" font-weight="normal" fill="#222" style="stroke:#222" >–</text>
<text x="409.20" y="636.00" font-size="7.5" text-anchor="middle" font-weight="normal" fill="#222" style="stroke:#222" >+</text>
<text x="422.40" y="636.00" font-size="7.5" text-anchor="middle" font-weight="normal" fill="#222" style="stroke:#222" >–</text>
<text x="435.60" y="636.00" font-size="7.5" text-anchor="middle" font-weight="normal" fill="#222" style="stroke:#222" >+</text>
<text x="448.70" y="636.00" font-size="7.5" text-anchor="middle" font-weight="normal" fill="#222" style="stroke:#222" >–</text>
<text x="461.90" y="636.00" font-size="7.5" text-anchor="middle" font-weight="normal" fill="#222" style="stroke:#222" >+</text>
<text x="475.30" y="636.00" font-size="7.5" text-anchor="middle" font-weight="normal" fill="#222" style="stroke:#222" >–</text>
<text x="488.70" y="636.00" font-size="7.5" text-anchor="middle" font-weight="normal" fill="#222" style="stroke:#222" >+</text>
<text x="386.60" y="638.80" font-size="7.5" text-anchor="end" font-weight="normal" fill="#222" style="stroke:#222" >ropeg-</text>
<text x="385.80" y="647.40" font-size="7.5" text-anchor="end" font-weight="normal" fill="#222" style="stroke:#222" >IFN-α</text>
<line x1="391.80" y1="640.20" x2="412.50" y2="640.20" stroke="#333" stroke-width="0.9" />
<line x1="418.10" y1="640.20" x2="438.90" y2="640.20" stroke="#333" stroke-width="0.9" />
<line x1="444.40" y1="640.20" x2="465.20" y2="640.20" stroke="#333" stroke-width="0.9" />
<line x1="471.00" y1="640.20" x2="492.00" y2="640.20" stroke="#333" stroke-width="0.9" />
<text x="402.15" y="650.00" font-size="7.5" text-anchor="middle" font-weight="normal" fill="#222" style="stroke:#222" >WT</text>
<text x="418.10" y="650.00" font-size="7.5" fill="#222" font-style="italic">Tyk2<tspan font-size="4.6" dy="-3">−/−</tspan></text>
<text x="444.40" y="650.00" font-size="7.5" fill="#222" font-style="italic">Jak2</text>
<text x="444.40" y="659.20" font-size="7.5" fill="#222">V617F</text>
<text x="471.00" y="650.00" font-size="7.5" fill="#222"><tspan font-style="italic">Jak2</tspan>V617F;</text>
<text x="471.00" y="659.20" font-size="7.5" fill="#222" font-style="italic">Tyk2<tspan font-size="4.6" dy="-3">−/−</tspan></text>
</svg></body></html>
